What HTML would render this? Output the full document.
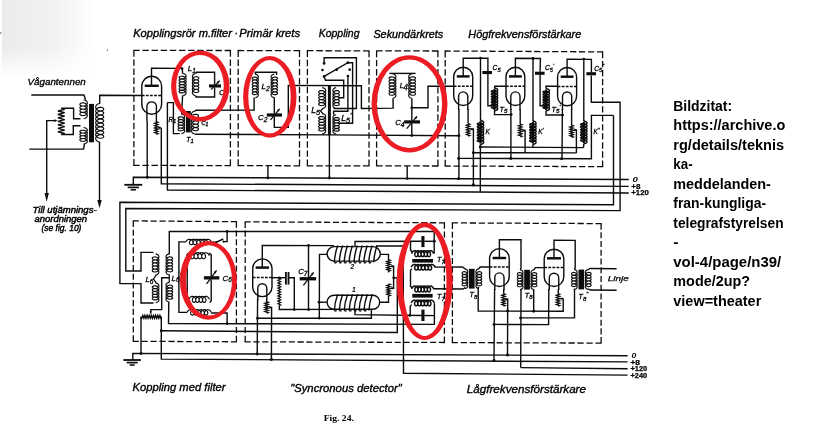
<!DOCTYPE html>
<html lang="sv">
<head>
<meta charset="utf-8">
<title>Fig. 24</title>
<style>
html,body{margin:0;padding:0;background:#fff;}
body{width:835px;height:434px;overflow:hidden;position:relative;font-family:"Liberation Sans",sans-serif;}
svg{position:absolute;left:0;top:0;display:block;}
svg text{stroke:none;fill:#000;}
.h{font-family:"Liberation Sans",sans-serif;font-style:italic;stroke:#000;stroke-width:0.34px;}
.l{font-family:"Liberation Sans",sans-serif;font-style:italic;stroke:#000;stroke-width:0.3px;}
.nb{font-family:"Liberation Sans",sans-serif;font-weight:bold;stroke:#000;stroke-width:0.25px;}
.li{font-family:"Liberation Sans",sans-serif;font-style:italic;stroke:#000;stroke-width:0.25px;}
.n{font-family:"Liberation Sans",sans-serif;font-style:italic;font-weight:bold;}
.n3{font-family:"Liberation Sans",sans-serif;font-style:italic;stroke:#000;stroke-width:0.3px;}
.n2{font-family:"Liberation Sans",sans-serif;font-style:italic;stroke:#000;stroke-width:0.45px;}
.f{font-family:"Liberation Serif",serif;font-weight:bold;}
.b{font-family:"Liberation Sans",sans-serif;font-weight:bold;fill:#000;}
</style>
</head>
<body>
<svg width="835" height="434" viewBox="0 0 835 434">
<defs>
<linearGradient id="sm" x1="0" y1="0" x2="1" y2="0"><stop offset="0" stop-color="#ebebeb"/><stop offset="0.55" stop-color="#f1f1f1"/><stop offset="1" stop-color="#ffffff"/></linearGradient>
<linearGradient id="sf" x1="0" y1="0" x2="0" y2="1"><stop offset="0" stop-color="#fff" stop-opacity="0"/><stop offset="0.6" stop-color="#fff" stop-opacity="0"/><stop offset="1" stop-color="#fff" stop-opacity="1"/></linearGradient>
<filter id="gs" x="0" y="0" width="835" height="434" filterUnits="userSpaceOnUse" color-interpolation-filters="sRGB"><feColorMatrix type="saturate" values="0"/></filter>
</defs>
<rect x="0" y="0" width="835" height="434" fill="#ffffff"/>
<rect x="2" y="0" width="92" height="76" fill="url(#sm)"/>
<rect x="0" y="0" width="96" height="77" fill="url(#sf)"/>
<circle cx="107.4" cy="50.1" r="0.7" fill="#333"/><circle cx="0.8" cy="33" r="0.7" fill="#444"/>
<g class="ink" filter="url(#gs)" stroke="#0c0c0c" fill="none" stroke-linejoin="miter">
<polyline points="133.3,50.4 231.0,50.5" stroke-width="1.29" stroke-dasharray="6.43 2.7"/>
<polyline points="230.4,50.5 230.4,165.6" stroke-width="1.29" stroke-dasharray="6.36 2.7"/>
<polyline points="231.0,165.6 133.3,165.4" stroke-width="1.29" stroke-dasharray="6.43 2.7"/>
<polyline points="133.9,165.4 133.9,50.4" stroke-width="1.29" stroke-dasharray="6.35 2.7"/>
<polyline points="237.6,50.5 300.1,50.7" stroke-width="1.29" stroke-dasharray="6.61 2.7"/>
<polyline points="299.5,50.7 299.5,165.8" stroke-width="1.29" stroke-dasharray="6.36 2.7"/>
<polyline points="300.1,165.8 237.6,165.6" stroke-width="1.29" stroke-dasharray="6.61 2.7"/>
<polyline points="238.2,165.6 238.2,50.5" stroke-width="1.29" stroke-dasharray="6.36 2.7"/>
<polyline points="306.8,50.7 369.6,50.9" stroke-width="1.29" stroke-dasharray="6.66 2.7"/>
<polyline points="369.0,50.9 369.0,165.9" stroke-width="1.29" stroke-dasharray="6.35 2.7"/>
<polyline points="369.6,165.9 306.8,165.8" stroke-width="1.29" stroke-dasharray="6.66 2.7"/>
<polyline points="307.4,165.8 307.4,50.7" stroke-width="1.29" stroke-dasharray="6.36 2.7"/>
<polyline points="376.0,50.9 438.5,51.0" stroke-width="1.29" stroke-dasharray="6.61 2.7"/>
<polyline points="437.9,51.0 437.9,166.0" stroke-width="1.29" stroke-dasharray="6.35 2.7"/>
<polyline points="438.5,166.0 376.0,165.9" stroke-width="1.29" stroke-dasharray="6.61 2.7"/>
<polyline points="376.6,165.9 376.6,50.9" stroke-width="1.29" stroke-dasharray="6.35 2.7"/>
<polyline points="444.6,51.0 603.2,51.9" stroke-width="1.29" stroke-dasharray="6.26 2.7"/>
<polyline points="602.6,51.9 602.6,166.7" stroke-width="1.29" stroke-dasharray="6.34 2.7"/>
<polyline points="603.2,166.7 444.6,166.0" stroke-width="1.29" stroke-dasharray="6.26 2.7"/>
<polyline points="445.2,166.0 445.2,51.0" stroke-width="1.29" stroke-dasharray="6.35 2.7"/>
<polyline points="132.7,220.9 237.0,221.7" stroke-width="1.29" stroke-dasharray="6.22 2.7"/>
<polyline points="236.4,221.7 236.4,341.8" stroke-width="1.29" stroke-dasharray="6.07 2.7"/>
<polyline points="237.0,341.8 132.7,341.3" stroke-width="1.29" stroke-dasharray="6.22 2.7"/>
<polyline points="133.3,341.3 133.3,220.9" stroke-width="1.29" stroke-dasharray="6.09 2.7"/>
<polyline points="244.6,221.9 445.0,222.8" stroke-width="1.29" stroke-dasharray="6.13 2.7"/>
<polyline points="444.4,222.8 444.4,342.5" stroke-width="1.29" stroke-dasharray="6.04 2.7"/>
<polyline points="445.0,342.5 244.6,341.8" stroke-width="1.29" stroke-dasharray="6.13 2.7"/>
<polyline points="245.2,341.8 245.2,221.9" stroke-width="1.29" stroke-dasharray="6.06 2.7"/>
<polyline points="451.8,222.9 601.7,223.6" stroke-width="1.29" stroke-dasharray="6.28 2.7"/>
<polyline points="601.1,223.6 601.1,343.1" stroke-width="1.29" stroke-dasharray="6.03 2.7"/>
<polyline points="601.7,343.1 451.8,342.6" stroke-width="1.29" stroke-dasharray="6.28 2.7"/>
<polyline points="452.4,342.6 452.4,222.9" stroke-width="1.29" stroke-dasharray="6.04 2.7"/>
<polyline points="133.3,184.6 133.3,177.2 628.8,179.5" stroke-width="1.40"/>
<polyline points="161.3,128.0 161.3,183.8 628.8,186.4" stroke-width="1.40"/>
<polyline points="167.4,102.6 167.4,190.0 628.8,193.0" stroke-width="1.40"/>
<polyline points="124.3,184.8 142.3,184.8" stroke-width="1.82"/>
<polyline points="127.7,187.4 138.9,187.4" stroke-width="1.68"/>
<polyline points="130.7,189.8 135.9,189.8" stroke-width="1.54"/>
<polyline points="267.9,165.6 267.9,177.9" stroke-width="1.40"/>
<circle cx="267.9" cy="177.9" r="1.35" fill="#0c0c0c" stroke="none"/>
<polyline points="407.2,165.9 407.2,178.5" stroke-width="1.40"/>
<circle cx="407.2" cy="178.5" r="1.35" fill="#0c0c0c" stroke="none"/>
<polyline points="613.5,115.4 613.5,204.7 119.9,202.3 119.9,283.6 141.0,283.6 141.0,303.0 153.5,303.0" stroke-width="1.40"/>
<polyline points="591.3,75.4 591.3,102.2 620.1,102.2 620.1,210.6 125.8,208.5 125.8,271.0 141.0,271.0 141.0,252.4 153.5,252.4" stroke-width="1.40"/>
<polyline points="132.8,360.0 132.8,353.4 627.6,355.7" stroke-width="1.40"/>
<polyline points="161.3,330.8 161.3,359.1 627.6,361.9" stroke-width="1.40"/>
<polyline points="520.7,367.6 627.6,368.7" stroke-width="1.40"/>
<polyline points="376.0,246.0 403.2,245.9 403.5,373.3 627.6,375.1" stroke-width="1.40"/>
<polyline points="123.4,360.0 140.9,360.0" stroke-width="1.82"/>
<polyline points="126.7,362.6 137.7,362.6" stroke-width="1.68"/>
<polyline points="129.7,365.0 134.7,365.0" stroke-width="1.54"/>
<text x="632.6" y="181.9" font-size="7.4" class="n" textLength="5.4" lengthAdjust="spacingAndGlyphs" >0</text>
<text x="631.3" y="188.7" font-size="7.4" class="nb" textLength="9.2" lengthAdjust="spacingAndGlyphs" >+8</text>
<text x="631.3" y="195.3" font-size="7.2" class="nb" textLength="17.6" lengthAdjust="spacingAndGlyphs" >+120</text>
<text x="631.4" y="357.7" font-size="6.4" class="n" textLength="4.8" lengthAdjust="spacingAndGlyphs" >0</text>
<text x="630.4" y="364.7" font-size="7.2" class="nb" textLength="9.6" lengthAdjust="spacingAndGlyphs" >+8</text>
<text x="630.4" y="371.3" font-size="7.2" class="nb" textLength="16.8" lengthAdjust="spacingAndGlyphs" >+120</text>
<text x="630.4" y="377.9" font-size="7.2" class="nb" textLength="16.8" lengthAdjust="spacingAndGlyphs" >+240</text>
<text x="133.2" y="37.3" font-size="10.2" class="h" textLength="98.8" lengthAdjust="spacingAndGlyphs" >Kopplingsrör m.filter</text>
<text x="234.4" y="37.3" font-size="10.2" class="h" >·</text>
<text x="239.3" y="37.3" font-size="10.2" class="h" textLength="60.8" lengthAdjust="spacingAndGlyphs" >Primär krets</text>
<text x="318.7" y="37.4" font-size="10.2" class="h" textLength="40.8" lengthAdjust="spacingAndGlyphs" >Koppling</text>
<text x="373.4" y="37.5" font-size="10.2" class="h" textLength="69.8" lengthAdjust="spacingAndGlyphs" >Sekundärkrets</text>
<text x="468.3" y="38.0" font-size="10.2" class="h" textLength="113.0" lengthAdjust="spacingAndGlyphs" >Högfrekvensförstärkare</text>
<text x="132.6" y="391.3" font-size="10.2" class="h" textLength="92.9" lengthAdjust="spacingAndGlyphs" >Koppling med filter</text>
<text x="290.2" y="391.8" font-size="10.2" class="h" textLength="111.6" lengthAdjust="spacingAndGlyphs" >"Syncronous detector"</text>
<text x="466.8" y="393.0" font-size="10.2" class="h" textLength="119.2" lengthAdjust="spacingAndGlyphs" >Lågfrekvensförstärkare</text>
<text x="323.7" y="421.2" font-size="8.6" class="f" textLength="30.2" lengthAdjust="spacingAndGlyphs" >Fig. 24.</text>
<text x="27.5" y="85.1" font-size="8.2" class="n3" textLength="58.3" lengthAdjust="spacingAndGlyphs" >Vågantennen</text>
<text x="32.6" y="212.7" font-size="8.8" class="n2" textLength="64.0" lengthAdjust="spacingAndGlyphs" >Till utjämnings-</text>
<text x="34.5" y="222.4" font-size="8.8" class="n2" textLength="52.5" lengthAdjust="spacingAndGlyphs" >anordningen</text>
<text x="41.5" y="231.3" font-size="8.8" class="n2" textLength="39.9" lengthAdjust="spacingAndGlyphs" >(se fig. 10)</text>
<text x="607.8" y="281.0" font-size="7.8" class="li" textLength="21.0" lengthAdjust="spacingAndGlyphs" >Linje</text>
<polyline points="31.3,95.0 83.9,95.0 85.6,99.6" stroke-width="1.40"/>
<path d="M83.60,99.70 L84.64,99.94 L85.60,100.35 L86.39,100.93 L86.97,101.62 L87.28,102.40 L87.30,103.21 L87.02,103.99 L86.47,104.70 L85.69,105.29 L84.75,105.73 L83.72,105.98 L82.67,106.05 L81.70,105.94 L80.88,105.67 L80.28,105.27 L79.94,104.78 L79.89,104.26 L80.14,103.76 L80.66,103.33 L81.41,103.01 L82.34,102.84 L83.37,102.85 L84.41,103.04 L85.39,103.42 L86.23,103.96 L86.86,104.64 L87.24,105.40 L87.32,106.20 L87.10,107.00 L86.61,107.73 L85.88,108.35 L84.97,108.82 L83.95,109.12 L82.90,109.23 L81.91,109.16 L81.05,108.92 L80.39,108.54 L79.99,108.07 L79.88,107.55 L80.06,107.04 L80.52,106.59 L81.23,106.24 L82.12,106.04 L83.13,106.01 L84.18,106.16 L85.19,106.50 L86.06,107.00 L86.75,107.65 L87.18,108.40 L87.32,109.20 L87.18,110.00 L86.75,110.75 L86.06,111.40 L85.19,111.90 L84.18,112.24 L83.13,112.39 L82.12,112.36 L81.23,112.16 L80.52,111.81 L80.06,111.36 L79.88,110.85 L79.99,110.33 L80.39,109.86 L81.05,109.48 L81.91,109.24 L82.90,109.17 L83.95,109.28 L84.97,109.58 L85.88,110.05 L86.61,110.67 L87.10,111.40 L87.32,112.20 L87.24,113.00 L86.86,113.76 L86.23,114.44 L85.39,114.98 L84.41,115.36 L83.37,115.55 L82.34,115.56 L81.41,115.39 L80.66,115.07 L80.14,114.64 L79.89,114.14 L79.94,113.62 L80.28,113.13 L80.88,112.73 L81.70,112.46 L82.67,112.35 L83.72,112.42 L84.75,112.67 L85.69,113.11 L86.47,113.70 L87.02,114.41 L87.30,115.19 L87.28,116.00 L86.97,116.78 L86.39,117.47 L85.60,118.05 L84.64,118.46 L83.60,118.70" stroke-width="1.15" stroke-linejoin="round"/>
<path d="M83.60,127.50 L84.64,127.71 L85.60,128.07 L86.39,128.57 L86.97,129.17 L87.28,129.85 L87.30,130.55 L87.02,131.23 L86.47,131.84 L85.69,132.35 L84.75,132.73 L83.72,132.96 L82.67,133.02 L81.70,132.92 L80.88,132.68 L80.28,132.34 L79.94,131.91 L79.89,131.46 L80.14,131.03 L80.66,130.65 L81.41,130.37 L82.34,130.23 L83.37,130.23 L84.41,130.40 L85.39,130.73 L86.23,131.20 L86.86,131.79 L87.24,132.45 L87.32,133.15 L87.10,133.84 L86.61,134.47 L85.88,135.01 L84.97,135.42 L83.95,135.68 L82.90,135.77 L81.91,135.71 L81.05,135.50 L80.39,135.18 L79.99,134.77 L79.88,134.32 L80.06,133.88 L80.52,133.48 L81.23,133.18 L82.12,133.00 L83.13,132.98 L84.18,133.11 L85.19,133.40 L86.06,133.84 L86.75,134.41 L87.18,135.06 L87.32,135.75 L87.18,136.44 L86.75,137.09 L86.06,137.66 L85.19,138.10 L84.18,138.39 L83.13,138.52 L82.12,138.50 L81.23,138.32 L80.52,138.02 L80.06,137.62 L79.88,137.18 L79.99,136.73 L80.39,136.32 L81.05,136.00 L81.91,135.79 L82.90,135.73 L83.95,135.82 L84.97,136.08 L85.88,136.49 L86.61,137.03 L87.10,137.66 L87.32,138.35 L87.24,139.05 L86.86,139.71 L86.23,140.30 L85.39,140.77 L84.41,141.10 L83.37,141.27 L82.34,141.27 L81.41,141.13 L80.66,140.85 L80.14,140.47 L79.89,140.04 L79.94,139.59 L80.28,139.16 L80.88,138.82 L81.70,138.58 L82.67,138.48 L83.72,138.54 L84.75,138.77 L85.69,139.15 L86.47,139.66 L87.02,140.27 L87.30,140.95 L87.28,141.65 L86.97,142.33 L86.39,142.93 L85.60,143.43 L84.64,143.79 L83.60,144.00" stroke-width="1.15" stroke-linejoin="round"/>
<polyline points="29.4,149.1 83.5,149.1 84.5,144.0" stroke-width="1.40"/>
<rect x="89.0" y="103.9" width="5.0" height="38.4" fill="#0c0c0c" stroke="none"/>
<path d="M99.70,103.50 L98.52,103.80 L97.45,104.32 L96.57,105.04 L95.97,105.90 L95.69,106.85 L95.76,107.82 L96.18,108.74 L96.90,109.55 L97.87,110.19 L99.00,110.63 L100.19,110.83 L101.34,110.81 L102.34,110.57 L103.11,110.16 L103.59,109.62 L103.72,109.02 L103.51,108.44 L102.96,107.92 L102.12,107.55 L101.08,107.36 L99.91,107.39 L98.73,107.65 L97.63,108.13 L96.71,108.82 L96.05,109.66 L95.71,110.60 L95.72,111.57 L96.08,112.50 L96.76,113.33 L97.69,114.01 L98.79,114.48 L99.98,114.73 L101.14,114.74 L102.18,114.54 L103.00,114.16 L103.53,113.64 L103.72,113.05 L103.57,112.45 L103.08,111.92 L102.29,111.52 L101.27,111.29 L100.12,111.28 L98.93,111.50 L97.81,111.95 L96.85,112.60 L96.15,113.42 L95.75,114.34 L95.70,115.31 L95.99,116.26 L96.62,117.11 L97.51,117.82 L98.59,118.33 L99.77,118.62 L100.94,118.67 L102.01,118.51 L102.87,118.15 L103.46,117.65 L103.72,117.07 L103.62,116.47 L103.19,115.92 L102.45,115.49 L101.46,115.23 L100.33,115.18 L99.14,115.36 L98.00,115.77 L97.01,116.39 L96.25,117.18 L95.79,118.09 L95.68,119.06 L95.92,120.01 L96.49,120.89 L97.33,121.62 L98.39,122.17 L99.56,122.50 L100.74,122.60 L101.83,122.47 L102.74,122.14 L103.38,121.66 L103.69,121.09 L103.66,120.49 L103.29,119.93 L102.60,119.47 L101.65,119.18 L100.54,119.09 L99.35,119.23 L98.19,119.59 L97.17,120.18 L96.36,120.94 L95.85,121.84 L95.67,122.80 L95.85,123.76 L96.36,124.66 L97.17,125.42 L98.19,126.01 L99.35,126.37 L100.54,126.51 L101.65,126.42 L102.60,126.13 L103.29,125.67 L103.66,125.11 L103.69,124.51 L103.38,123.94 L102.74,123.46 L101.83,123.13 L100.74,123.00 L99.56,123.10 L98.39,123.43 L97.33,123.98 L96.49,124.71 L95.92,125.59 L95.68,126.54 L95.79,127.51 L96.25,128.42 L97.01,129.21 L98.00,129.83 L99.14,130.24 L100.33,130.42 L101.46,130.37 L102.45,130.11 L103.19,129.68 L103.62,129.13 L103.72,128.53 L103.46,127.95 L102.87,127.45 L102.01,127.09 L100.94,126.93 L99.77,126.98 L98.59,127.27 L97.51,127.78 L96.62,128.49 L95.99,129.34 L95.70,130.29 L95.75,131.26 L96.15,132.18 L96.85,133.00 L97.81,133.65 L98.93,134.10 L100.12,134.32 L101.27,134.31 L102.29,134.08 L103.08,133.68 L103.57,133.15 L103.72,132.55 L103.53,131.96 L103.00,131.44 L102.18,131.06 L101.14,130.86 L99.98,130.87 L98.79,131.12 L97.69,131.59 L96.76,132.27 L96.08,133.10 L95.72,134.03 L95.71,135.00 L96.05,135.94 L96.71,136.78 L97.63,137.47 L98.73,137.95 L99.91,138.21 L101.08,138.24 L102.12,138.05 L102.96,137.68 L103.51,137.16 L103.72,136.58 L103.59,135.98 L103.11,135.44 L102.34,135.03 L101.34,134.79 L100.19,134.77 L99.00,134.97 L97.87,135.41 L96.90,136.05 L96.18,136.86 L95.76,137.78 L95.69,138.75 L95.97,139.70 L96.57,140.56 L97.45,141.28 L98.52,141.80 L99.70,142.10" stroke-width="1.15" stroke-linejoin="round"/>
<polyline points="99.7,104.0 99.7,95.3 142.2,95.5" stroke-width="1.40"/>
<polyline points="99.5,141.8 99.5,201.5" stroke-width="1.40"/>
<polygon points="99.5,208.3 97.3,200.0 101.7,200.0" fill="#0c0c0c" stroke="none"/>
<polyline points="56.0,120.6 46.7,120.6 46.7,194.5" stroke-width="1.40"/>
<polygon points="46.7,201.7 44.5,193.0 48.9,193.0" fill="#0c0c0c" stroke="none"/>
<polygon points="57.6,120.6 54.2,119.2 54.2,122.0" fill="#0c0c0c" stroke="none"/>
<polyline points="61.3,108.4 64.7,109.3 57.9,111.0 64.7,112.7 57.9,114.5 64.7,116.2 57.9,117.9 64.7,119.7 57.9,121.4 64.7,123.1 57.9,124.9 64.7,126.6 57.9,128.3 64.7,130.1 57.9,131.8 64.7,133.5 61.3,134.4" stroke-width="1.33"/>
<polyline points="61.3,108.2 73.6,108.2 73.6,118.7 80.5,118.7" stroke-width="1.40"/>
<polyline points="61.3,134.5 73.3,134.5 73.3,125.7 80.5,125.7" stroke-width="1.40"/>
<rect x="141.8" y="76.3" width="19.8" height="37.9" rx="9.9" ry="9.9" stroke-width="1.40"/>
<polyline points="144.7,85.8 158.7,85.8" stroke-width="2.45"/>
<polyline points="141.8,95.5 161.6,95.5" stroke-width="1.54" stroke-dasharray="2.8 1.3"/>
<path d="M146.9,121.0 L146.9,106.0 A4.8,4.8 0 0 1 156.4,106.0 L156.4,121.0" stroke-width="1.40" fill="none" />
<polyline points="151.5,85.8 151.5,68.1 182.3,68.4 182.6,73.6" stroke-width="1.40"/>
<circle cx="182.0" cy="68.5" r="1.35" fill="#0c0c0c" stroke="none"/>
<path d="M182.60,73.50 L183.61,73.71 L184.54,74.09 L185.31,74.60 L185.84,75.22 L186.10,75.90 L186.07,76.60 L185.74,77.27 L185.15,77.87 L184.34,78.35 L183.38,78.69 L182.36,78.86 L181.36,78.87 L180.46,78.73 L179.75,78.45 L179.27,78.07 L179.08,77.64 L179.18,77.20 L179.57,76.81 L180.22,76.49 L181.07,76.30 L182.05,76.26 L183.07,76.39 L184.06,76.68 L184.92,77.12 L185.58,77.68 L186.00,78.34 L186.12,79.03 L185.95,79.73 L185.50,80.37 L184.80,80.92 L183.91,81.34 L182.92,81.60 L181.89,81.70 L180.93,81.63 L180.11,81.42 L179.50,81.10 L179.15,80.69 L179.09,80.25 L179.33,79.82 L179.84,79.46 L180.59,79.20 L181.51,79.08 L182.52,79.11 L183.54,79.31 L184.48,79.67 L185.25,80.17 L185.81,80.79 L186.09,81.47 L186.08,82.17 L185.78,82.84 L185.20,83.45 L184.41,83.94 L183.46,84.29 L182.44,84.48 L181.44,84.50 L180.53,84.36 L179.80,84.09 L179.30,83.73 L179.08,83.30 L179.16,82.86 L179.53,82.46 L180.16,82.13 L181.00,81.93 L181.97,81.88 L182.99,81.99 L183.99,82.27 L184.86,82.70 L185.54,83.26 L185.98,83.90 L186.12,84.60 L185.98,85.30 L185.54,85.94 L184.86,86.50 L183.99,86.93 L182.99,87.21 L181.97,87.32 L181.00,87.27 L180.16,87.07 L179.53,86.74 L179.16,86.34 L179.08,85.90 L179.30,85.47 L179.80,85.11 L180.53,84.84 L181.44,84.70 L182.44,84.72 L183.46,84.91 L184.41,85.26 L185.20,85.75 L185.78,86.36 L186.08,87.03 L186.09,87.73 L185.81,88.41 L185.25,89.03 L184.48,89.53 L183.54,89.89 L182.52,90.09 L181.51,90.12 L180.59,90.00 L179.84,89.74 L179.33,89.38 L179.09,88.95 L179.15,88.51 L179.50,88.10 L180.11,87.78 L180.93,87.57 L181.89,87.50 L182.92,87.60 L183.91,87.86 L184.80,88.28 L185.50,88.83 L185.95,89.47 L186.12,90.17 L186.00,90.86 L185.58,91.52 L184.92,92.08 L184.06,92.52 L183.07,92.81 L182.05,92.94 L181.07,92.90 L180.22,92.71 L179.57,92.39 L179.18,92.00 L179.08,91.56 L179.27,91.13 L179.75,90.75 L180.46,90.47 L181.36,90.33 L182.36,90.34 L183.38,90.51 L184.34,90.85 L185.15,91.33 L185.74,91.93 L186.07,92.60 L186.10,93.30 L185.84,93.98 L185.31,94.60 L184.54,95.11 L183.61,95.49 L182.60,95.70" stroke-width="1.15" stroke-linejoin="round"/>
<polyline points="182.6,95.5 181.6,114.2" stroke-width="1.40"/>
<path d="M195.60,73.50 L194.68,73.74 L193.84,74.16 L193.15,74.74 L192.65,75.45 L192.40,76.23 L192.41,77.03 L192.69,77.81 L193.20,78.50 L193.91,79.07 L194.77,79.48 L195.68,79.70 L196.60,79.74 L197.43,79.59 L198.11,79.29 L198.58,78.87 L198.81,78.38 L198.77,77.87 L198.47,77.39 L197.94,77.00 L197.21,76.74 L196.35,76.65 L195.43,76.73 L194.52,77.01 L193.70,77.46 L193.04,78.07 L192.59,78.79 L192.38,79.58 L192.45,80.38 L192.77,81.14 L193.32,81.82 L194.06,82.36 L194.93,82.73 L195.85,82.92 L196.76,82.93 L197.56,82.75 L198.21,82.43 L198.64,81.99 L198.82,81.49 L198.74,80.98 L198.39,80.52 L197.82,80.15 L197.06,79.91 L196.19,79.85 L195.26,79.97 L194.37,80.28 L193.57,80.76 L192.94,81.39 L192.53,82.13 L192.38,82.93 L192.48,83.73 L192.85,84.48 L193.44,85.13 L194.21,85.64 L195.10,85.99 L196.02,86.14 L196.91,86.11 L197.69,85.90 L198.30,85.56 L198.69,85.10 L198.82,84.60 L198.69,84.10 L198.30,83.64 L197.69,83.30 L196.91,83.09 L196.02,83.06 L195.10,83.21 L194.21,83.56 L193.44,84.07 L192.85,84.72 L192.48,85.47 L192.38,86.27 L192.53,87.07 L192.94,87.81 L193.57,88.44 L194.37,88.92 L195.26,89.23 L196.19,89.35 L197.06,89.29 L197.82,89.05 L198.39,88.68 L198.74,88.22 L198.82,87.71 L198.64,87.21 L198.21,86.77 L197.56,86.45 L196.76,86.27 L195.85,86.28 L194.93,86.47 L194.06,86.84 L193.32,87.38 L192.77,88.06 L192.45,88.82 L192.38,89.62 L192.59,90.41 L193.04,91.13 L193.70,91.74 L194.52,92.19 L195.43,92.47 L196.35,92.55 L197.21,92.46 L197.94,92.20 L198.47,91.81 L198.77,91.33 L198.81,90.82 L198.58,90.33 L198.11,89.91 L197.43,89.61 L196.60,89.46 L195.68,89.50 L194.77,89.72 L193.91,90.13 L193.20,90.70 L192.69,91.39 L192.41,92.17 L192.40,92.97 L192.65,93.75 L193.15,94.46 L193.84,95.04 L194.68,95.46 L195.60,95.70" stroke-width="1.15" stroke-linejoin="round"/>
<polyline points="195.8,73.6 196.4,72.2 214.6,72.2 214.6,84.4" stroke-width="1.40"/>
<rect x="209.0" y="84.4" width="12.0" height="3.1" fill="#0c0c0c" stroke="none"/>
<polyline points="214.6,87.4 214.6,97.0 196.0,97.0 195.6,95.6" stroke-width="1.40"/>
<polyline points="211.0,89.6 219.6,80.8" stroke-width="1.26"/>
<polygon points="219.6,80.8 218.6,83.5 216.9,81.8" fill="#0c0c0c" stroke="none"/>
<polyline points="167.4,102.6 173.4,102.6 173.4,133.6 179.8,133.6" stroke-width="1.40"/>
<path d="M181.40,114.00 L182.34,114.21 L183.21,114.59 L183.93,115.10 L184.44,115.72 L184.70,116.41 L184.68,117.12 L184.40,117.80 L183.87,118.42 L183.14,118.92 L182.26,119.28 L181.31,119.48 L180.37,119.51 L179.52,119.38 L178.82,119.11 L178.33,118.74 L178.09,118.31 L178.13,117.86 L178.44,117.44 L178.99,117.09 L179.74,116.86 L180.62,116.78 L181.57,116.85 L182.51,117.10 L183.35,117.50 L184.04,118.03 L184.50,118.67 L184.71,119.37 L184.65,120.07 L184.32,120.75 L183.75,121.34 L182.99,121.82 L182.09,122.15 L181.14,122.32 L180.21,122.32 L179.38,122.17 L178.71,121.88 L178.27,121.50 L178.08,121.06 L178.17,120.61 L178.52,120.20 L179.11,119.87 L179.89,119.66 L180.79,119.61 L181.75,119.71 L182.67,119.99 L183.49,120.41 L184.14,120.97 L184.56,121.62 L184.72,122.32 L184.61,123.03 L184.24,123.69 L183.62,124.27 L182.83,124.72 L181.92,125.02 L180.97,125.16 L180.05,125.13 L179.24,124.95 L178.61,124.64 L178.21,124.25 L178.08,123.80 L178.21,123.35 L178.61,122.96 L179.24,122.65 L180.05,122.47 L180.97,122.44 L181.92,122.58 L182.83,122.88 L183.62,123.33 L184.24,123.91 L184.61,124.57 L184.72,125.28 L184.56,125.98 L184.14,126.63 L183.49,127.19 L182.67,127.61 L181.75,127.89 L180.79,127.99 L179.89,127.94 L179.11,127.73 L178.52,127.40 L178.17,126.99 L178.08,126.54 L178.27,126.10 L178.71,125.72 L179.38,125.43 L180.21,125.28 L181.14,125.28 L182.09,125.45 L182.99,125.78 L183.75,126.26 L184.32,126.85 L184.65,127.53 L184.71,128.23 L184.50,128.93 L184.04,129.57 L183.35,130.10 L182.51,130.50 L181.57,130.75 L180.62,130.82 L179.74,130.74 L178.99,130.51 L178.44,130.16 L178.13,129.74 L178.09,129.29 L178.33,128.86 L178.82,128.49 L179.52,128.22 L180.37,128.09 L181.31,128.12 L182.26,128.32 L183.14,128.68 L183.87,129.18 L184.40,129.80 L184.68,130.48 L184.70,131.19 L184.44,131.88 L183.93,132.50 L183.21,133.01 L182.34,133.39 L181.40,133.60" stroke-width="1.15" stroke-linejoin="round"/>
<rect x="186.0" y="111.0" width="4.7" height="21.4" fill="#0c0c0c" stroke="none"/>
<path d="M195.00,111.00 L194.00,111.25 L193.08,111.69 L192.32,112.29 L191.78,113.02 L191.51,113.83 L191.52,114.66 L191.82,115.46 L192.38,116.18 L193.16,116.77 L194.09,117.19 L195.09,117.43 L196.09,117.46 L197.00,117.31 L197.74,117.00 L198.26,116.57 L198.51,116.06 L198.47,115.53 L198.14,115.03 L197.56,114.63 L196.76,114.36 L195.82,114.26 L194.82,114.35 L193.82,114.63 L192.93,115.10 L192.20,115.73 L191.71,116.48 L191.49,117.30 L191.55,118.13 L191.90,118.92 L192.51,119.62 L193.32,120.18 L194.27,120.57 L195.28,120.76 L196.26,120.77 L197.15,120.58 L197.85,120.25 L198.32,119.80 L198.52,119.28 L198.43,118.75 L198.05,118.27 L197.43,117.89 L196.60,117.65 L195.64,117.58 L194.63,117.70 L193.65,118.02 L192.78,118.52 L192.09,119.18 L191.65,119.94 L191.48,120.77 L191.60,121.59 L191.99,122.37 L192.64,123.05 L193.48,123.58 L194.45,123.94 L195.46,124.10 L196.43,124.06 L197.29,123.85 L197.96,123.49 L198.38,123.02 L198.53,122.50 L198.38,121.98 L197.96,121.51 L197.29,121.15 L196.43,120.94 L195.46,120.90 L194.45,121.06 L193.48,121.42 L192.64,121.95 L191.99,122.63 L191.60,123.41 L191.48,124.23 L191.65,125.06 L192.09,125.82 L192.78,126.48 L193.65,126.98 L194.63,127.30 L195.64,127.42 L196.60,127.35 L197.43,127.11 L198.05,126.73 L198.43,126.25 L198.52,125.72 L198.32,125.20 L197.85,124.75 L197.15,124.42 L196.26,124.23 L195.28,124.24 L194.27,124.43 L193.32,124.82 L192.51,125.38 L191.90,126.08 L191.55,126.87 L191.49,127.70 L191.71,128.52 L192.20,129.27 L192.93,129.90 L193.82,130.37 L194.82,130.65 L195.82,130.74 L196.76,130.64 L197.56,130.37 L198.14,129.97 L198.47,129.47 L198.51,128.94 L198.26,128.43 L197.74,128.00 L197.00,127.69 L196.09,127.54 L195.09,127.57 L194.09,127.81 L193.16,128.23 L192.38,128.82 L191.82,129.54 L191.52,130.34 L191.51,131.17 L191.78,131.98 L192.32,132.71 L193.08,133.31 L194.00,133.75 L195.00,134.00" stroke-width="1.15" stroke-linejoin="round"/>
<polyline points="195.0,111.2 196.0,110.3 254.1,110.0 254.1,97.4" stroke-width="1.40"/>
<polyline points="195.0,133.8 196.0,134.3 329.4,134.9 458.9,135.8" stroke-width="1.40"/>
<polyline points="147.2,121.0 147.2,177.3" stroke-width="1.40"/>
<circle cx="147.2" cy="177.3" r="1.4850000000000003" fill="#0c0c0c" stroke="none"/>
<polyline points="156.3,120.8 156.3,122.0" stroke-width="1.40"/>
<polyline points="156.3,121.5 158.0,122.1 154.6,123.2 158.0,124.4 154.6,125.6 158.0,126.7 154.6,127.9 158.0,129.1 154.6,130.2 158.0,131.4 154.6,132.6 158.0,133.7 156.3,134.3" stroke-width="1.26"/>
<polyline points="158.3,127.8 161.3,127.8" stroke-width="1.40"/>
<polygon points="157.8,127.8 160.2,126.6 160.2,129.0" fill="#0c0c0c" stroke="none"/>
<text x="187.8" y="71.4" font-size="7.840000000000001" class="l" >L<tspan font-size="6.6" dy="1.7">1</tspan></text>
<text x="218.9" y="94.6" font-size="7.840000000000001" class="l" >C<tspan font-size="6.6" dy="1.7">1</tspan></text>
<text x="168.6" y="121.6" font-size="6.272" class="l" >R<tspan font-size="5.3" dy="1.7">1</tspan></text>
<text x="186.2" y="141.6" font-size="6.944000000000001" class="l" >T<tspan font-size="5.8" dy="1.7">1</tspan></text>
<text x="201.2" y="124.6" font-size="6.048000000000001" class="l" >C<tspan font-size="5.1" dy="1.7">1</tspan></text>
<path d="M255.30,74.10 L256.17,74.33 L256.97,74.72 L257.62,75.26 L258.08,75.92 L258.31,76.64 L258.28,77.38 L258.00,78.09 L257.49,78.72 L256.79,79.23 L255.97,79.59 L255.10,79.78 L254.24,79.79 L253.47,79.63 L252.85,79.34 L252.44,78.94 L252.28,78.48 L252.37,78.02 L252.70,77.60 L253.26,77.27 L253.99,77.07 L254.83,77.03 L255.71,77.16 L256.55,77.46 L257.29,77.93 L257.86,78.53 L258.22,79.22 L258.32,79.96 L258.18,80.69 L257.79,81.37 L257.19,81.95 L256.43,82.40 L255.57,82.67 L254.69,82.78 L253.87,82.71 L253.16,82.49 L252.64,82.14 L252.34,81.71 L252.29,81.24 L252.49,80.79 L252.93,80.41 L253.58,80.13 L254.37,80.00 L255.23,80.04 L256.10,80.25 L256.91,80.63 L257.58,81.17 L258.05,81.81 L258.30,82.53 L258.29,83.28 L258.03,83.99 L257.53,84.63 L256.85,85.15 L256.04,85.52 L255.16,85.72 L254.30,85.74 L253.52,85.60 L252.89,85.32 L252.47,84.92 L252.28,84.47 L252.35,84.01 L252.67,83.58 L253.21,83.24 L253.93,83.03 L254.76,82.97 L255.64,83.09 L256.49,83.38 L257.24,83.84 L257.82,84.43 L258.20,85.11 L258.32,85.85 L258.20,86.59 L257.82,87.27 L257.24,87.86 L256.49,88.32 L255.64,88.61 L254.76,88.73 L253.93,88.67 L253.21,88.46 L252.67,88.12 L252.35,87.69 L252.28,87.23 L252.47,86.78 L252.89,86.38 L253.52,86.10 L254.30,85.96 L255.16,85.98 L256.04,86.18 L256.85,86.55 L257.53,87.07 L258.03,87.71 L258.29,88.42 L258.30,89.17 L258.05,89.89 L257.58,90.53 L256.91,91.07 L256.10,91.45 L255.23,91.66 L254.37,91.70 L253.58,91.57 L252.93,91.29 L252.49,90.91 L252.29,90.46 L252.34,89.99 L252.64,89.56 L253.16,89.21 L253.87,88.99 L254.69,88.92 L255.57,89.03 L256.43,89.30 L257.19,89.75 L257.79,90.33 L258.18,91.01 L258.32,91.74 L258.22,92.48 L257.86,93.17 L257.29,93.77 L256.55,94.24 L255.71,94.54 L254.83,94.67 L253.99,94.63 L253.26,94.43 L252.70,94.10 L252.37,93.68 L252.28,93.22 L252.44,92.76 L252.85,92.36 L253.47,92.07 L254.24,91.91 L255.10,91.92 L255.97,92.11 L256.79,92.47 L257.49,92.98 L258.00,93.61 L258.28,94.32 L258.31,95.06 L258.08,95.78 L257.62,96.44 L256.97,96.98 L256.17,97.37 L255.30,97.60" stroke-width="1.15" stroke-linejoin="round"/>
<path d="M274.30,74.10 L273.37,74.33 L272.52,74.72 L271.82,75.26 L271.33,75.92 L271.10,76.64 L271.13,77.38 L271.43,78.09 L271.97,78.72 L272.71,79.23 L273.58,79.59 L274.52,79.78 L275.43,79.79 L276.25,79.63 L276.91,79.34 L277.34,78.94 L277.52,78.48 L277.43,78.02 L277.07,77.60 L276.48,77.27 L275.70,77.07 L274.80,77.03 L273.87,77.16 L272.97,77.46 L272.18,77.93 L271.57,78.53 L271.19,79.22 L271.08,79.96 L271.23,80.69 L271.65,81.37 L272.29,81.95 L273.10,82.40 L274.01,82.67 L274.95,82.78 L275.83,82.71 L276.58,82.49 L277.14,82.14 L277.46,81.71 L277.51,81.24 L277.29,80.79 L276.82,80.41 L276.14,80.13 L275.30,80.00 L274.37,80.04 L273.44,80.25 L272.58,80.63 L271.87,81.17 L271.36,81.81 L271.10,82.53 L271.11,83.28 L271.39,83.99 L271.92,84.63 L272.65,85.15 L273.51,85.52 L274.44,85.72 L275.37,85.74 L276.20,85.60 L276.87,85.32 L277.32,84.92 L277.52,84.47 L277.44,84.01 L277.10,83.58 L276.53,83.24 L275.76,83.03 L274.88,82.97 L273.94,83.09 L273.03,83.38 L272.23,83.84 L271.61,84.43 L271.21,85.11 L271.07,85.85 L271.21,86.59 L271.61,87.27 L272.23,87.86 L273.03,88.32 L273.94,88.61 L274.88,88.73 L275.76,88.67 L276.53,88.46 L277.10,88.12 L277.44,87.69 L277.52,87.23 L277.32,86.78 L276.87,86.38 L276.20,86.10 L275.37,85.96 L274.44,85.98 L273.51,86.18 L272.65,86.55 L271.92,87.07 L271.39,87.71 L271.11,88.42 L271.10,89.17 L271.36,89.89 L271.87,90.53 L272.58,91.07 L273.44,91.45 L274.37,91.66 L275.30,91.70 L276.14,91.57 L276.82,91.29 L277.29,90.91 L277.51,90.46 L277.46,89.99 L277.14,89.56 L276.58,89.21 L275.83,88.99 L274.95,88.92 L274.01,89.03 L273.10,89.30 L272.29,89.75 L271.65,90.33 L271.23,91.01 L271.08,91.74 L271.19,92.48 L271.57,93.17 L272.18,93.77 L272.97,94.24 L273.87,94.54 L274.80,94.67 L275.70,94.63 L276.48,94.43 L277.07,94.10 L277.43,93.68 L277.52,93.22 L277.34,92.76 L276.91,92.36 L276.25,92.07 L275.43,91.91 L274.52,91.92 L273.58,92.11 L272.71,92.47 L271.97,92.98 L271.43,93.61 L271.13,94.32 L271.10,95.06 L271.33,95.78 L271.82,96.44 L272.52,96.98 L273.37,97.37 L274.30,97.60" stroke-width="1.15" stroke-linejoin="round"/>
<polyline points="255.3,74.3 255.3,72.3 276.6,72.3 276.6,75.0" stroke-width="1.40"/>
<polyline points="274.3,97.4 274.3,113.6" stroke-width="1.40"/>
<rect x="266.8" y="113.4" width="15.2" height="3.2" fill="#0c0c0c" stroke="none"/>
<polyline points="274.3,116.4 274.3,127.4 288.3,127.4 288.3,85.4 361.4,85.7 361.4,108.5 393.2,108.1 393.0,98.6" stroke-width="1.40"/>
<polyline points="270.5,119.9 279.6,108.8" stroke-width="1.26"/>
<polygon points="279.6,108.8 278.9,111.6 277.0,110.0" fill="#0c0c0c" stroke="none"/>
<text x="261.6" y="89.0" font-size="7.840000000000001" class="l" >L<tspan font-size="6.6" dy="1.7">2</tspan></text>
<text x="258.0" y="120.4" font-size="7.840000000000001" class="l" >C<tspan font-size="6.6" dy="1.7">2</tspan></text>
<path d="M322.20,87.60 L323.20,87.83 L324.12,88.22 L324.88,88.77 L325.42,89.43 L325.69,90.17 L325.68,90.93 L325.38,91.66 L324.82,92.31 L324.04,92.84 L323.11,93.23 L322.11,93.44 L321.11,93.47 L320.20,93.34 L319.46,93.05 L318.94,92.66 L318.69,92.20 L318.73,91.72 L319.06,91.27 L319.64,90.90 L320.44,90.65 L321.38,90.56 L322.38,90.64 L323.38,90.90 L324.27,91.33 L325.00,91.90 L325.49,92.58 L325.71,93.32 L325.65,94.08 L325.30,94.80 L324.69,95.43 L323.88,95.94 L322.93,96.29 L321.92,96.47 L320.94,96.47 L320.05,96.31 L319.35,96.00 L318.88,95.59 L318.68,95.12 L318.77,94.64 L319.15,94.21 L319.77,93.86 L320.60,93.64 L321.56,93.58 L322.57,93.69 L323.55,93.98 L324.42,94.44 L325.11,95.03 L325.55,95.72 L325.72,96.47 L325.60,97.23 L325.21,97.93 L324.56,98.55 L323.72,99.03 L322.75,99.35 L321.74,99.50 L320.77,99.47 L319.91,99.28 L319.24,98.95 L318.82,98.53 L318.68,98.05 L318.82,97.57 L319.24,97.15 L319.91,96.82 L320.77,96.63 L321.74,96.60 L322.75,96.75 L323.72,97.07 L324.56,97.55 L325.21,98.17 L325.60,98.87 L325.72,99.63 L325.55,100.38 L325.11,101.07 L324.42,101.66 L323.55,102.12 L322.57,102.41 L321.56,102.52 L320.60,102.46 L319.77,102.24 L319.15,101.89 L318.77,101.46 L318.68,100.98 L318.88,100.51 L319.35,100.10 L320.05,99.79 L320.94,99.63 L321.92,99.63 L322.93,99.81 L323.88,100.16 L324.69,100.67 L325.30,101.30 L325.65,102.02 L325.71,102.78 L325.49,103.52 L325.00,104.20 L324.27,104.77 L323.38,105.20 L322.38,105.46 L321.38,105.54 L320.44,105.45 L319.64,105.20 L319.06,104.83 L318.73,104.38 L318.69,103.90 L318.94,103.44 L319.46,103.05 L320.20,102.76 L321.11,102.63 L322.11,102.66 L323.11,102.87 L324.04,103.26 L324.82,103.79 L325.38,104.44 L325.68,105.17 L325.69,105.93 L325.42,106.67 L324.88,107.33 L324.12,107.88 L323.20,108.27 L322.20,108.50" stroke-width="1.15" stroke-linejoin="round"/>
<path d="M322.20,113.60 L323.20,113.82 L324.12,114.21 L324.88,114.74 L325.42,115.38 L325.69,116.09 L325.68,116.83 L325.38,117.54 L324.82,118.17 L324.04,118.69 L323.11,119.07 L322.11,119.27 L321.11,119.30 L320.20,119.17 L319.46,118.90 L318.94,118.51 L318.69,118.06 L318.73,117.60 L319.06,117.16 L319.64,116.80 L320.44,116.57 L321.38,116.48 L322.38,116.56 L323.38,116.81 L324.27,117.22 L325.00,117.78 L325.49,118.44 L325.71,119.16 L325.65,119.89 L325.30,120.59 L324.69,121.21 L323.88,121.70 L322.93,122.04 L321.92,122.22 L320.94,122.22 L320.05,122.06 L319.35,121.76 L318.88,121.36 L318.68,120.91 L318.77,120.44 L319.15,120.02 L319.77,119.68 L320.60,119.47 L321.56,119.41 L322.57,119.52 L323.55,119.80 L324.42,120.24 L325.11,120.82 L325.55,121.49 L325.72,122.22 L325.60,122.95 L325.21,123.64 L324.56,124.24 L323.72,124.70 L322.75,125.02 L321.74,125.16 L320.77,125.13 L319.91,124.94 L319.24,124.62 L318.82,124.21 L318.68,123.75 L318.82,123.29 L319.24,122.88 L319.91,122.56 L320.77,122.37 L321.74,122.34 L322.75,122.48 L323.72,122.80 L324.56,123.26 L325.21,123.86 L325.60,124.55 L325.72,125.28 L325.55,126.01 L325.11,126.68 L324.42,127.26 L323.55,127.70 L322.57,127.98 L321.56,128.09 L320.60,128.03 L319.77,127.82 L319.15,127.48 L318.77,127.06 L318.68,126.59 L318.88,126.14 L319.35,125.74 L320.05,125.44 L320.94,125.28 L321.92,125.28 L322.93,125.46 L323.88,125.80 L324.69,126.29 L325.30,126.91 L325.65,127.61 L325.71,128.34 L325.49,129.06 L325.00,129.72 L324.27,130.28 L323.38,130.69 L322.38,130.94 L321.38,131.02 L320.44,130.93 L319.64,130.70 L319.06,130.34 L318.73,129.90 L318.69,129.44 L318.94,128.99 L319.46,128.60 L320.20,128.33 L321.11,128.20 L322.11,128.23 L323.11,128.43 L324.04,128.81 L324.82,129.33 L325.38,129.96 L325.68,130.67 L325.69,131.41 L325.42,132.12 L324.88,132.76 L324.12,133.29 L323.20,133.68 L322.20,133.90" stroke-width="1.15" stroke-linejoin="round"/>
<polyline points="323.0,108.3 320.5,111.0 323.0,113.8" stroke-width="1.26"/>
<polyline points="329.4,85.6 329.4,134.9" stroke-width="2.94"/>
<polyline points="329.4,134.0 329.4,178.1" stroke-width="1.40"/>
<circle cx="329.4" cy="178.1" r="1.4850000000000003" fill="#0c0c0c" stroke="none"/>
<path d="M336.10,87.60 L335.18,87.83 L334.34,88.22 L333.65,88.77 L333.15,89.43 L332.90,90.17 L332.91,90.93 L333.19,91.66 L333.70,92.31 L334.41,92.84 L335.27,93.23 L336.18,93.44 L337.10,93.47 L337.93,93.34 L338.61,93.05 L339.08,92.66 L339.31,92.20 L339.27,91.72 L338.97,91.27 L338.44,90.90 L337.71,90.65 L336.85,90.56 L335.93,90.64 L335.02,90.90 L334.20,91.33 L333.54,91.90 L333.09,92.58 L332.88,93.32 L332.95,94.08 L333.27,94.80 L333.82,95.43 L334.56,95.94 L335.43,96.29 L336.35,96.47 L337.26,96.47 L338.06,96.31 L338.71,96.00 L339.14,95.59 L339.32,95.12 L339.24,94.64 L338.89,94.21 L338.32,93.86 L337.56,93.64 L336.69,93.58 L335.76,93.69 L334.87,93.98 L334.07,94.44 L333.44,95.03 L333.03,95.72 L332.88,96.47 L332.98,97.23 L333.35,97.93 L333.94,98.55 L334.71,99.03 L335.60,99.35 L336.52,99.50 L337.41,99.47 L338.19,99.28 L338.80,98.95 L339.19,98.53 L339.33,98.05 L339.19,97.57 L338.80,97.15 L338.19,96.82 L337.41,96.63 L336.52,96.60 L335.60,96.75 L334.71,97.07 L333.94,97.55 L333.35,98.17 L332.98,98.87 L332.88,99.63 L333.03,100.38 L333.44,101.07 L334.07,101.66 L334.87,102.12 L335.76,102.41 L336.69,102.52 L337.56,102.46 L338.32,102.24 L338.89,101.89 L339.24,101.46 L339.32,100.98 L339.14,100.51 L338.71,100.10 L338.06,99.79 L337.26,99.63 L336.35,99.63 L335.43,99.81 L334.56,100.16 L333.82,100.67 L333.27,101.30 L332.95,102.02 L332.88,102.78 L333.09,103.52 L333.54,104.20 L334.20,104.77 L335.02,105.20 L335.93,105.46 L336.85,105.54 L337.71,105.45 L338.44,105.20 L338.97,104.83 L339.27,104.38 L339.31,103.90 L339.08,103.44 L338.61,103.05 L337.93,102.76 L337.10,102.63 L336.18,102.66 L335.27,102.87 L334.41,103.26 L333.70,103.79 L333.19,104.44 L332.91,105.17 L332.90,105.93 L333.15,106.67 L333.65,107.33 L334.34,107.88 L335.18,108.27 L336.10,108.50" stroke-width="1.15" stroke-linejoin="round"/>
<path d="M336.10,114.80 L335.18,115.01 L334.34,115.37 L333.65,115.87 L333.15,116.48 L332.90,117.15 L332.91,117.84 L333.19,118.51 L333.70,119.10 L334.41,119.59 L335.27,119.94 L336.18,120.14 L337.10,120.17 L337.93,120.04 L338.61,119.78 L339.08,119.42 L339.31,119.00 L339.27,118.56 L338.97,118.15 L338.44,117.81 L337.71,117.59 L336.85,117.51 L335.93,117.58 L335.02,117.82 L334.20,118.21 L333.54,118.73 L333.09,119.35 L332.88,120.03 L332.95,120.72 L333.27,121.38 L333.82,121.96 L334.56,122.42 L335.43,122.74 L336.35,122.91 L337.26,122.91 L338.06,122.76 L338.71,122.48 L339.14,122.10 L339.32,121.68 L339.24,121.24 L338.89,120.84 L338.32,120.52 L337.56,120.32 L336.69,120.26 L335.76,120.37 L334.87,120.63 L334.07,121.05 L333.44,121.59 L333.03,122.22 L332.88,122.91 L332.98,123.60 L333.35,124.24 L333.94,124.81 L334.71,125.25 L335.60,125.54 L336.52,125.68 L337.41,125.65 L338.19,125.47 L338.80,125.17 L339.19,124.78 L339.33,124.35 L339.19,123.92 L338.80,123.53 L338.19,123.23 L337.41,123.05 L336.52,123.02 L335.60,123.16 L334.71,123.45 L333.94,123.89 L333.35,124.46 L332.98,125.10 L332.88,125.79 L333.03,126.48 L333.44,127.11 L334.07,127.65 L334.87,128.07 L335.76,128.33 L336.69,128.44 L337.56,128.38 L338.32,128.18 L338.89,127.86 L339.24,127.46 L339.32,127.02 L339.14,126.60 L338.71,126.22 L338.06,125.94 L337.26,125.79 L336.35,125.79 L335.43,125.96 L334.56,126.28 L333.82,126.74 L333.27,127.32 L332.95,127.98 L332.88,128.67 L333.09,129.35 L333.54,129.97 L334.20,130.49 L335.02,130.88 L335.93,131.12 L336.85,131.19 L337.71,131.11 L338.44,130.89 L338.97,130.55 L339.27,130.14 L339.31,129.70 L339.08,129.28 L338.61,128.92 L337.93,128.66 L337.10,128.53 L336.18,128.56 L335.27,128.76 L334.41,129.11 L333.70,129.60 L333.19,130.19 L332.91,130.86 L332.90,131.55 L333.15,132.22 L333.65,132.83 L334.34,133.33 L335.18,133.69 L336.10,133.90" stroke-width="1.15" stroke-linejoin="round"/>
<circle cx="324.1" cy="63.4" r="1.35" fill="#0c0c0c" stroke="none"/>
<circle cx="322.5" cy="70.0" r="1.35" fill="#0c0c0c" stroke="none"/>
<circle cx="324.1" cy="76.4" r="1.35" fill="#0c0c0c" stroke="none"/>
<circle cx="347.9" cy="62.7" r="1.35" fill="#0c0c0c" stroke="none"/>
<circle cx="349.7" cy="69.7" r="1.35" fill="#0c0c0c" stroke="none"/>
<circle cx="347.9" cy="76.0" r="1.35" fill="#0c0c0c" stroke="none"/>
<circle cx="336.7" cy="69.7" r="1.35" fill="#0c0c0c" stroke="none"/>
<polyline points="324.1,63.4 324.1,57.7 356.4,57.7 356.4,108.5 333.6,108.5" stroke-width="1.40"/>
<polyline points="324.1,76.4 347.9,62.7 352.6,62.7 352.6,123.2 338.0,123.2" stroke-width="1.40"/>
<polyline points="324.1,76.4 325.5,80.2 343.7,80.2 343.7,97.7 338.0,97.7" stroke-width="1.40"/>
<polyline points="347.9,76.0 347.9,111.2 333.6,111.2 333.6,114.8" stroke-width="1.40"/>
<text x="311.2" y="113.4" font-size="8.736" class="l" >L<tspan font-size="7.3" dy="1.7">5</tspan></text>
<text x="341.2" y="120.8" font-size="8.736" class="l" >L<tspan font-size="7.3" dy="1.7">5</tspan><tspan font-size="7.0" dy="-4.2">'</tspan></text>
<path d="M392.50,73.80 L393.49,74.04 L394.39,74.45 L395.13,75.01 L395.65,75.69 L395.90,76.45 L395.87,77.22 L395.55,77.96 L394.98,78.62 L394.19,79.15 L393.26,79.53 L392.27,79.72 L391.30,79.73 L390.43,79.57 L389.73,79.26 L389.27,78.85 L389.08,78.37 L389.18,77.89 L389.56,77.45 L390.19,77.10 L391.01,76.89 L391.96,76.85 L392.96,76.99 L393.92,77.31 L394.75,77.79 L395.40,78.42 L395.80,79.14 L395.92,79.91 L395.76,80.67 L395.32,81.38 L394.64,81.99 L393.78,82.45 L392.81,82.74 L391.81,82.85 L390.88,82.78 L390.08,82.54 L389.48,82.18 L389.14,81.73 L389.09,81.25 L389.32,80.78 L389.82,80.38 L390.55,80.09 L391.44,79.95 L392.42,79.99 L393.41,80.21 L394.32,80.61 L395.08,81.17 L395.62,81.84 L395.89,82.59 L395.88,83.37 L395.59,84.11 L395.03,84.78 L394.26,85.32 L393.34,85.71 L392.35,85.91 L391.37,85.94 L390.49,85.79 L389.77,85.49 L389.29,85.08 L389.08,84.61 L389.16,84.13 L389.52,83.68 L390.13,83.33 L390.95,83.11 L391.89,83.05 L392.88,83.17 L393.85,83.48 L394.69,83.95 L395.36,84.57 L395.78,85.28 L395.93,86.05 L395.78,86.82 L395.36,87.53 L394.69,88.15 L393.85,88.62 L392.88,88.93 L391.89,89.05 L390.95,88.99 L390.13,88.77 L389.52,88.42 L389.16,87.97 L389.08,87.49 L389.29,87.02 L389.77,86.61 L390.49,86.31 L391.37,86.16 L392.35,86.19 L393.34,86.39 L394.26,86.78 L395.03,87.32 L395.59,87.99 L395.88,88.73 L395.89,89.51 L395.62,90.26 L395.08,90.93 L394.32,91.49 L393.41,91.89 L392.42,92.11 L391.44,92.15 L390.55,92.01 L389.82,91.72 L389.32,91.32 L389.09,90.85 L389.14,90.37 L389.48,89.92 L390.08,89.56 L390.88,89.32 L391.81,89.25 L392.81,89.36 L393.78,89.65 L394.64,90.11 L395.32,90.72 L395.76,91.43 L395.92,92.19 L395.80,92.96 L395.40,93.68 L394.75,94.31 L393.92,94.79 L392.96,95.11 L391.96,95.25 L391.01,95.21 L390.19,95.00 L389.56,94.65 L389.18,94.21 L389.08,93.73 L389.27,93.25 L389.73,92.84 L390.43,92.53 L391.30,92.37 L392.27,92.38 L393.26,92.57 L394.19,92.95 L394.98,93.48 L395.55,94.14 L395.87,94.88 L395.90,95.65 L395.65,96.41 L395.13,97.09 L394.39,97.65 L393.49,98.06 L392.50,98.30" stroke-width="1.15" stroke-linejoin="round"/>
<path d="M412.10,73.80 L411.11,74.04 L410.21,74.45 L409.47,75.01 L408.95,75.69 L408.70,76.45 L408.73,77.22 L409.05,77.96 L409.62,78.62 L410.41,79.15 L411.34,79.53 L412.33,79.72 L413.30,79.73 L414.17,79.57 L414.87,79.26 L415.33,78.85 L415.52,78.37 L415.42,77.89 L415.04,77.45 L414.41,77.10 L413.59,76.89 L412.64,76.85 L411.64,76.99 L410.68,77.31 L409.85,77.79 L409.20,78.42 L408.80,79.14 L408.68,79.91 L408.84,80.67 L409.28,81.38 L409.96,81.99 L410.82,82.45 L411.79,82.74 L412.79,82.85 L413.72,82.78 L414.52,82.54 L415.12,82.18 L415.46,81.73 L415.51,81.25 L415.28,80.78 L414.78,80.38 L414.05,80.09 L413.16,79.95 L412.18,79.99 L411.19,80.21 L410.28,80.61 L409.52,81.17 L408.98,81.84 L408.71,82.59 L408.72,83.37 L409.01,84.11 L409.57,84.78 L410.34,85.32 L411.26,85.71 L412.25,85.91 L413.23,85.94 L414.11,85.79 L414.83,85.49 L415.31,85.08 L415.52,84.61 L415.44,84.13 L415.08,83.68 L414.47,83.33 L413.65,83.11 L412.71,83.05 L411.72,83.17 L410.75,83.48 L409.91,83.95 L409.24,84.57 L408.82,85.28 L408.68,86.05 L408.82,86.82 L409.24,87.53 L409.91,88.15 L410.75,88.62 L411.72,88.93 L412.71,89.05 L413.65,88.99 L414.47,88.77 L415.08,88.42 L415.44,87.97 L415.52,87.49 L415.31,87.02 L414.83,86.61 L414.11,86.31 L413.23,86.16 L412.25,86.19 L411.26,86.39 L410.34,86.78 L409.57,87.32 L409.01,87.99 L408.72,88.73 L408.71,89.51 L408.98,90.26 L409.52,90.93 L410.28,91.49 L411.19,91.89 L412.18,92.11 L413.16,92.15 L414.05,92.01 L414.78,91.72 L415.28,91.32 L415.51,90.85 L415.46,90.37 L415.12,89.92 L414.52,89.56 L413.72,89.32 L412.79,89.25 L411.79,89.36 L410.82,89.65 L409.96,90.11 L409.28,90.72 L408.84,91.43 L408.68,92.19 L408.80,92.96 L409.20,93.68 L409.85,94.31 L410.68,94.79 L411.64,95.11 L412.64,95.25 L413.59,95.21 L414.41,95.00 L415.04,94.65 L415.42,94.21 L415.52,93.73 L415.33,93.25 L414.87,92.84 L414.17,92.53 L413.30,92.37 L412.33,92.38 L411.34,92.57 L410.41,92.95 L409.62,93.48 L409.05,94.14 L408.73,94.88 L408.70,95.65 L408.95,96.41 L409.47,97.09 L410.21,97.65 L411.11,98.06 L412.10,98.30" stroke-width="1.15" stroke-linejoin="round"/>
<polyline points="389.4,73.4 415.6,73.4" stroke-width="1.40"/>
<polyline points="411.9,98.6 411.8,120.4" stroke-width="1.40"/>
<circle cx="411.8" cy="107.7" r="1.35" fill="#0c0c0c" stroke="none"/>
<polyline points="411.8,107.7 428.0,107.7 428.0,86.2 453.7,86.2" stroke-width="1.40"/>
<rect x="404.2" y="120.3" width="15.8" height="3.2" fill="#0c0c0c" stroke="none"/>
<polyline points="411.8,123.4 411.8,135.6" stroke-width="1.40"/>
<circle cx="411.8" cy="135.6" r="1.35" fill="#0c0c0c" stroke="none"/>
<polyline points="406.7,128.7 417.0,116.3" stroke-width="1.26"/>
<polygon points="417.0,116.3 416.3,119.1 414.4,117.5" fill="#0c0c0c" stroke="none"/>
<text x="399.8" y="87.6" font-size="7.2" class="l" >L<tspan font-size="8.4" dy="2.6" dx="-0.6">4</tspan></text>
<text x="395.2" y="125.4" font-size="7.840000000000001" class="l" >C<tspan font-size="6.6" dy="1.7">4</tspan></text>
<rect x="453.7" y="67.2" width="19.0" height="38.3" rx="9.5" ry="9.5" stroke-width="1.40"/>
<polyline points="456.8,76.4 469.6,76.4" stroke-width="2.45"/>
<polyline points="453.7,86.2 472.7,86.2" stroke-width="1.54" stroke-dasharray="2.8 1.3"/>
<path d="M458.6,110.0 L458.6,96.5 A4.6,4.6 0 0 1 467.8,96.5 L467.8,110.0" stroke-width="1.40" fill="none" />
<polyline points="463.2,76.4 463.2,58.3 487.9,58.3 487.9,71.2" stroke-width="1.40"/>
<rect x="482.4" y="71.0" width="9.6" height="3.1" fill="#0c0c0c" stroke="none"/>
<polyline points="487.9,74.0 487.9,105.8 491.5,105.8" stroke-width="1.40"/>
<circle cx="480.5" cy="58.0" r="1.35" fill="#0c0c0c" stroke="none"/>
<polyline points="480.5,58.3 480.5,120.5" stroke-width="1.40"/>
<polyline points="480.5,121.1 480.5,143.6" stroke-width="2.10"/>
<path d="M480.50,120.30 L481.42,120.50 L482.26,120.82 L482.95,121.25 L483.43,121.76 L483.66,122.32 L483.61,122.89 L483.30,123.44 L482.75,123.93 L482.00,124.32 L481.12,124.60 L480.19,124.76 L479.28,124.78 L478.49,124.68 L477.86,124.49 L477.46,124.22 L477.32,123.91 L477.46,123.61 L477.86,123.34 L478.49,123.15 L479.28,123.05 L480.19,123.07 L481.12,123.23 L482.00,123.51 L482.75,123.90 L483.30,124.39 L483.61,124.94 L483.66,125.51 L483.43,126.07 L482.95,126.58 L482.26,127.01 L481.42,127.33 L480.50,127.53 L479.58,127.60 L478.74,127.54 L478.05,127.37 L477.57,127.13 L477.34,126.83 L477.39,126.52 L477.70,126.24 L478.25,126.01 L479.00,125.88 L479.88,125.86 L480.81,125.97 L481.72,126.21 L482.51,126.57 L483.14,127.03 L483.54,127.56 L483.68,128.13 L483.54,128.70 L483.14,129.23 L482.51,129.69 L481.72,130.05 L480.81,130.29 L479.88,130.40 L479.00,130.38 L478.25,130.25 L477.70,130.03 L477.39,129.74 L477.34,129.43 L477.57,129.14 L478.05,128.89 L478.74,128.73 L479.58,128.67 L480.50,128.74 L481.42,128.93 L482.26,129.25 L482.95,129.68 L483.43,130.19 L483.66,130.75 L483.61,131.33 L483.30,131.87 L482.75,132.36 L482.00,132.76 L481.12,133.04 L480.19,133.19 L479.28,133.21 L478.49,133.12 L477.86,132.92 L477.46,132.66 L477.32,132.35 L477.46,132.04 L477.86,131.78 L478.49,131.58 L479.28,131.49 L480.19,131.51 L481.12,131.66 L482.00,131.94 L482.75,132.34 L483.30,132.83 L483.61,133.37 L483.66,133.95 L483.43,134.51 L482.95,135.02 L482.26,135.45 L481.42,135.77 L480.50,135.97 L479.58,136.03 L478.74,135.97 L478.05,135.81 L477.57,135.56 L477.34,135.27 L477.39,134.96 L477.70,134.67 L478.25,134.45 L479.00,134.32 L479.88,134.30 L480.81,134.41 L481.72,134.65 L482.51,135.01 L483.14,135.47 L483.54,136.00 L483.68,136.57 L483.54,137.14 L483.14,137.67 L482.51,138.13 L481.72,138.49 L480.81,138.73 L479.88,138.84 L479.00,138.82 L478.25,138.69 L477.70,138.46 L477.39,138.18 L477.34,137.87 L477.57,137.57 L478.05,137.33 L478.74,137.16 L479.58,137.10 L480.50,137.17 L481.42,137.37 L482.26,137.69 L482.95,138.12 L483.43,138.63 L483.66,139.19 L483.61,139.76 L483.30,140.31 L482.75,140.80 L482.00,141.19 L481.12,141.47 L480.19,141.63 L479.28,141.65 L478.49,141.55 L477.86,141.36 L477.46,141.09 L477.32,140.78 L477.46,140.48 L477.86,140.21 L478.49,140.02 L479.28,139.92 L480.19,139.94 L481.12,140.10 L482.00,140.38 L482.75,140.77 L483.30,141.26 L483.61,141.81 L483.66,142.38 L483.43,142.94 L482.95,143.45 L482.26,143.88 L481.42,144.20 L480.50,144.40" stroke-width="1.45" stroke-linejoin="round"/>
<polyline points="480.4,144.2 480.3,191.7" stroke-width="1.40"/>
<circle cx="480.3" cy="147.0" r="1.4850000000000003" fill="#0c0c0c" stroke="none"/>
<polyline points="494.5,88.8 494.5,110.0" stroke-width="2.10"/>
<path d="M494.50,88.00 L495.42,88.19 L496.26,88.49 L496.95,88.90 L497.43,89.38 L497.66,89.91 L497.61,90.45 L497.30,90.97 L496.75,91.43 L496.00,91.80 L495.12,92.07 L494.19,92.21 L493.28,92.24 L492.49,92.15 L491.86,91.96 L491.46,91.71 L491.32,91.42 L491.46,91.13 L491.86,90.88 L492.49,90.69 L493.28,90.60 L494.19,90.63 L495.12,90.77 L496.00,91.04 L496.75,91.41 L497.30,91.87 L497.61,92.39 L497.66,92.93 L497.43,93.46 L496.95,93.94 L496.26,94.35 L495.42,94.65 L494.50,94.84 L493.58,94.90 L492.74,94.85 L492.05,94.69 L491.57,94.46 L491.34,94.18 L491.39,93.89 L491.70,93.62 L492.25,93.40 L493.00,93.28 L493.88,93.26 L494.81,93.37 L495.72,93.59 L496.51,93.93 L497.14,94.37 L497.54,94.87 L497.68,95.41 L497.54,95.95 L497.14,96.45 L496.51,96.89 L495.72,97.23 L494.81,97.45 L493.88,97.56 L493.00,97.54 L492.25,97.42 L491.70,97.20 L491.39,96.93 L491.34,96.64 L491.57,96.36 L492.05,96.13 L492.74,95.97 L493.58,95.92 L494.50,95.98 L495.42,96.17 L496.26,96.47 L496.95,96.88 L497.43,97.36 L497.66,97.89 L497.61,98.43 L497.30,98.95 L496.75,99.41 L496.00,99.78 L495.12,100.05 L494.19,100.19 L493.28,100.22 L492.49,100.13 L491.86,99.94 L491.46,99.69 L491.32,99.40 L491.46,99.11 L491.86,98.86 L492.49,98.67 L493.28,98.58 L494.19,98.61 L495.12,98.75 L496.00,99.02 L496.75,99.39 L497.30,99.85 L497.61,100.37 L497.66,100.91 L497.43,101.44 L496.95,101.92 L496.26,102.33 L495.42,102.63 L494.50,102.82 L493.58,102.88 L492.74,102.83 L492.05,102.67 L491.57,102.44 L491.34,102.16 L491.39,101.87 L491.70,101.60 L492.25,101.38 L493.00,101.26 L493.88,101.24 L494.81,101.35 L495.72,101.57 L496.51,101.91 L497.14,102.35 L497.54,102.85 L497.68,103.39 L497.54,103.93 L497.14,104.43 L496.51,104.87 L495.72,105.21 L494.81,105.43 L493.88,105.54 L493.00,105.52 L492.25,105.40 L491.70,105.18 L491.39,104.91 L491.34,104.62 L491.57,104.34 L492.05,104.11 L492.74,103.95 L493.58,103.90 L494.50,103.96 L495.42,104.15 L496.26,104.45 L496.95,104.86 L497.43,105.34 L497.66,105.87 L497.61,106.41 L497.30,106.93 L496.75,107.39 L496.00,107.76 L495.12,108.03 L494.19,108.17 L493.28,108.20 L492.49,108.11 L491.86,107.92 L491.46,107.67 L491.32,107.38 L491.46,107.09 L491.86,106.84 L492.49,106.65 L493.28,106.56 L494.19,106.59 L495.12,106.73 L496.00,107.00 L496.75,107.37 L497.30,107.83 L497.61,108.35 L497.66,108.89 L497.43,109.42 L496.95,109.90 L496.26,110.31 L495.42,110.61 L494.50,110.80" stroke-width="1.45" stroke-linejoin="round"/>
<polyline points="494.5,88.2 494.8,86.2 505.9,86.2" stroke-width="1.40"/>
<polyline points="494.5,110.6 494.5,114.6 511.2,114.6" stroke-width="1.40"/>
<circle cx="511.2" cy="114.6" r="1.35" fill="#0c0c0c" stroke="none"/>
<polyline points="458.9,109.0 458.9,178.7" stroke-width="1.40"/>
<circle cx="458.9" cy="135.8" r="1.4850000000000003" fill="#0c0c0c" stroke="none"/>
<circle cx="458.6" cy="158.4" r="1.4850000000000003" fill="#0c0c0c" stroke="none"/>
<circle cx="458.6" cy="178.7" r="1.4850000000000003" fill="#0c0c0c" stroke="none"/>
<polyline points="468.1,109.0 468.1,123.6" stroke-width="1.40"/>
<polyline points="468.1,123.5 469.8,124.1 466.4,125.2 469.8,126.4 466.4,127.5 469.8,128.7 466.4,129.8 469.8,131.0 466.4,132.2 469.8,133.3 466.4,134.5 469.8,135.6 468.1,136.2" stroke-width="1.26"/>
<polyline points="470.6,129.0 473.4,129.0 473.4,185.1" stroke-width="1.40"/>
<polygon points="470.0,129.0 472.4,127.8 472.4,130.2" fill="#0c0c0c" stroke="none"/>
<circle cx="473.3" cy="152.7" r="1.35" fill="#0c0c0c" stroke="none"/>
<circle cx="473.4" cy="185.1" r="1.4850000000000003" fill="#0c0c0c" stroke="none"/>
<rect x="506.0" y="67.2" width="18.8" height="38.3" rx="9.4" ry="9.4" stroke-width="1.40"/>
<polyline points="509.0,76.4 521.8,76.4" stroke-width="2.45"/>
<polyline points="506.0,86.2 524.8,86.2" stroke-width="1.54" stroke-dasharray="2.8 1.3"/>
<path d="M510.8,110.0 L510.8,96.5 A4.6,4.6 0 0 1 520.0,96.5 L520.0,110.0" stroke-width="1.40" fill="none" />
<polyline points="515.4,76.4 515.4,58.3 540.4,58.5 540.1,71.8" stroke-width="1.40"/>
<rect x="535.0" y="71.7" width="9.6" height="3.1" fill="#0c0c0c" stroke="none"/>
<polyline points="540.1,74.6 540.1,105.8 543.0,105.8" stroke-width="1.40"/>
<circle cx="533.0" cy="58.4" r="1.35" fill="#0c0c0c" stroke="none"/>
<polyline points="533.0,58.4 533.0,121.2" stroke-width="1.40"/>
<polyline points="532.9,121.8 532.9,143.6" stroke-width="2.10"/>
<path d="M532.90,121.00 L533.82,121.19 L534.66,121.50 L535.35,121.92 L535.83,122.41 L536.06,122.96 L536.01,123.52 L535.70,124.05 L535.15,124.52 L534.40,124.90 L533.52,125.18 L532.59,125.33 L531.68,125.35 L530.89,125.26 L530.26,125.07 L529.86,124.81 L529.73,124.51 L529.86,124.21 L530.26,123.95 L530.89,123.76 L531.68,123.67 L532.59,123.69 L533.52,123.84 L534.40,124.12 L535.15,124.50 L535.70,124.97 L536.01,125.50 L536.06,126.06 L535.83,126.61 L535.35,127.10 L534.66,127.52 L533.82,127.83 L532.90,128.02 L531.98,128.08 L531.14,128.03 L530.45,127.87 L529.97,127.63 L529.74,127.34 L529.79,127.04 L530.10,126.76 L530.65,126.55 L531.40,126.42 L532.28,126.40 L533.21,126.51 L534.12,126.74 L534.91,127.09 L535.54,127.54 L535.94,128.05 L536.07,128.60 L535.94,129.16 L535.54,129.67 L534.91,130.12 L534.12,130.47 L533.21,130.70 L532.28,130.81 L531.40,130.79 L530.65,130.66 L530.10,130.45 L529.79,130.17 L529.74,129.87 L529.97,129.58 L530.45,129.34 L531.14,129.18 L531.98,129.13 L532.90,129.19 L533.82,129.38 L534.66,129.69 L535.35,130.11 L535.83,130.60 L536.06,131.15 L536.01,131.71 L535.70,132.24 L535.15,132.71 L534.40,133.09 L533.52,133.37 L532.59,133.52 L531.68,133.54 L530.89,133.45 L530.26,133.26 L529.86,133.00 L529.73,132.70 L529.86,132.40 L530.26,132.14 L530.89,131.95 L531.68,131.86 L532.59,131.88 L533.52,132.03 L534.40,132.31 L535.15,132.69 L535.70,133.16 L536.01,133.69 L536.06,134.25 L535.83,134.80 L535.35,135.29 L534.66,135.71 L533.82,136.02 L532.90,136.21 L531.98,136.27 L531.14,136.22 L530.45,136.06 L529.97,135.82 L529.74,135.53 L529.79,135.23 L530.10,134.95 L530.65,134.74 L531.40,134.61 L532.28,134.59 L533.21,134.70 L534.12,134.93 L534.91,135.28 L535.54,135.73 L535.94,136.24 L536.07,136.79 L535.94,137.35 L535.54,137.86 L534.91,138.31 L534.12,138.66 L533.21,138.89 L532.28,139.00 L531.40,138.98 L530.65,138.85 L530.10,138.64 L529.79,138.36 L529.74,138.06 L529.97,137.77 L530.45,137.53 L531.14,137.37 L531.98,137.32 L532.90,137.38 L533.82,137.57 L534.66,137.88 L535.35,138.30 L535.83,138.79 L536.06,139.34 L536.01,139.90 L535.70,140.43 L535.15,140.90 L534.40,141.28 L533.52,141.56 L532.59,141.71 L531.68,141.73 L530.89,141.64 L530.26,141.45 L529.86,141.19 L529.73,140.89 L529.86,140.59 L530.26,140.33 L530.89,140.14 L531.68,140.05 L532.59,140.07 L533.52,140.22 L534.40,140.50 L535.15,140.88 L535.70,141.35 L536.01,141.88 L536.06,142.44 L535.83,142.99 L535.35,143.48 L534.66,143.90 L533.82,144.21 L532.90,144.40" stroke-width="1.45" stroke-linejoin="round"/>
<polyline points="532.9,144.2 532.9,147.3" stroke-width="1.40"/>
<polyline points="546.2,89.5 546.2,110.0" stroke-width="2.10"/>
<path d="M546.20,88.70 L547.12,88.88 L547.96,89.17 L548.65,89.57 L549.13,90.04 L549.36,90.55 L549.31,91.08 L549.00,91.58 L548.45,92.02 L547.70,92.39 L546.82,92.64 L545.89,92.79 L544.98,92.81 L544.19,92.72 L543.56,92.54 L543.16,92.30 L543.03,92.02 L543.16,91.73 L543.56,91.49 L544.19,91.31 L544.98,91.22 L545.89,91.24 L546.82,91.39 L547.70,91.64 L548.45,92.01 L549.00,92.45 L549.31,92.95 L549.36,93.48 L549.13,93.99 L548.65,94.46 L547.96,94.86 L547.12,95.15 L546.20,95.33 L545.28,95.39 L544.44,95.34 L543.75,95.19 L543.27,94.96 L543.04,94.69 L543.09,94.40 L543.40,94.14 L543.95,93.94 L544.70,93.82 L545.58,93.80 L546.51,93.90 L547.42,94.12 L548.21,94.45 L548.84,94.87 L549.24,95.36 L549.38,95.88 L549.24,96.40 L548.84,96.89 L548.21,97.31 L547.42,97.64 L546.51,97.86 L545.58,97.96 L544.70,97.95 L543.95,97.83 L543.40,97.62 L543.09,97.36 L543.04,97.08 L543.27,96.80 L543.75,96.58 L544.44,96.43 L545.28,96.37 L546.20,96.44 L547.12,96.62 L547.96,96.91 L548.65,97.30 L549.13,97.77 L549.36,98.29 L549.31,98.81 L549.00,99.31 L548.45,99.76 L547.70,100.12 L546.82,100.38 L545.89,100.52 L544.98,100.54 L544.19,100.46 L543.56,100.28 L543.16,100.03 L543.03,99.75 L543.16,99.47 L543.56,99.22 L544.19,99.04 L544.98,98.96 L545.89,98.98 L546.82,99.12 L547.70,99.38 L548.45,99.74 L549.00,100.19 L549.31,100.69 L549.36,101.21 L549.13,101.73 L548.65,102.20 L547.96,102.59 L547.12,102.88 L546.20,103.06 L545.28,103.13 L544.44,103.07 L543.75,102.92 L543.27,102.70 L543.04,102.42 L543.09,102.14 L543.40,101.88 L543.95,101.67 L544.70,101.55 L545.58,101.54 L546.51,101.64 L547.42,101.86 L548.21,102.19 L548.84,102.61 L549.24,103.10 L549.38,103.62 L549.24,104.14 L548.84,104.63 L548.21,105.05 L547.42,105.38 L546.51,105.60 L545.58,105.70 L544.70,105.68 L543.95,105.56 L543.40,105.36 L543.09,105.10 L543.04,104.81 L543.27,104.54 L543.75,104.31 L544.44,104.16 L545.28,104.11 L546.20,104.17 L547.12,104.35 L547.96,104.64 L548.65,105.04 L549.13,105.51 L549.36,106.02 L549.31,106.55 L549.00,107.05 L548.45,107.49 L547.70,107.86 L546.82,108.11 L545.89,108.26 L544.98,108.28 L544.19,108.19 L543.56,108.01 L543.16,107.77 L543.03,107.48 L543.16,107.20 L543.56,106.96 L544.19,106.78 L544.98,106.69 L545.89,106.71 L546.82,106.86 L547.70,107.11 L548.45,107.48 L549.00,107.92 L549.31,108.42 L549.36,108.95 L549.13,109.46 L548.65,109.93 L547.96,110.33 L547.12,110.62 L546.20,110.80" stroke-width="1.45" stroke-linejoin="round"/>
<polyline points="546.2,88.9 546.0,86.3 557.6,86.3" stroke-width="1.40"/>
<polyline points="546.0,110.6 546.0,115.0 562.7,115.0" stroke-width="1.40"/>
<circle cx="562.7" cy="115.0" r="1.35" fill="#0c0c0c" stroke="none"/>
<polyline points="510.9,109.0 510.9,158.6" stroke-width="1.40"/>
<circle cx="510.8" cy="158.6" r="1.4850000000000003" fill="#0c0c0c" stroke="none"/>
<polyline points="520.2,109.0 520.2,124.2" stroke-width="1.40"/>
<polyline points="520.2,124.1 521.9,124.7 518.5,125.8 521.9,127.0 518.5,128.1 521.9,129.3 518.5,130.4 521.9,131.6 518.5,132.8 521.9,133.9 518.5,135.1 521.9,136.2 520.2,136.8" stroke-width="1.26"/>
<polyline points="522.6,130.5 525.1,130.5 525.1,152.8" stroke-width="1.40"/>
<polygon points="522.0,130.5 524.4,129.3 524.4,131.7" fill="#0c0c0c" stroke="none"/>
<rect x="557.6" y="67.5" width="19.0" height="38.3" rx="9.5" ry="9.5" stroke-width="1.40"/>
<polyline points="560.7,76.7 573.5,76.7" stroke-width="2.45"/>
<polyline points="557.6,86.4 576.6,86.4" stroke-width="1.54" stroke-dasharray="2.8 1.3"/>
<path d="M562.5,110.0 L562.5,96.6 A4.6,4.6 0 0 1 571.7,96.6 L571.7,110.0" stroke-width="1.40" fill="none" />
<polyline points="567.1,76.7 567.1,59.2 591.4,59.4 591.4,72.4" stroke-width="1.40"/>
<rect x="586.4" y="72.2" width="9.6" height="3.1" fill="#0c0c0c" stroke="none"/>
<circle cx="583.8" cy="59.0" r="1.35" fill="#0c0c0c" stroke="none"/>
<polyline points="583.8,59.3 583.8,121.2" stroke-width="1.40"/>
<polyline points="583.8,121.8 583.8,143.0" stroke-width="2.10"/>
<path d="M583.80,121.00 L584.72,121.19 L585.56,121.49 L586.25,121.90 L586.73,122.38 L586.96,122.91 L586.91,123.45 L586.60,123.97 L586.05,124.43 L585.30,124.80 L584.42,125.07 L583.49,125.21 L582.58,125.24 L581.79,125.15 L581.16,124.96 L580.76,124.71 L580.62,124.42 L580.76,124.13 L581.16,123.88 L581.79,123.69 L582.58,123.60 L583.49,123.63 L584.42,123.77 L585.30,124.04 L586.05,124.41 L586.60,124.87 L586.91,125.39 L586.96,125.93 L586.73,126.46 L586.25,126.94 L585.56,127.35 L584.72,127.65 L583.80,127.84 L582.88,127.90 L582.04,127.85 L581.35,127.69 L580.87,127.46 L580.64,127.18 L580.69,126.89 L581.00,126.62 L581.55,126.40 L582.30,126.28 L583.18,126.26 L584.11,126.37 L585.02,126.59 L585.81,126.93 L586.44,127.37 L586.84,127.87 L586.97,128.41 L586.84,128.95 L586.44,129.45 L585.81,129.89 L585.02,130.23 L584.11,130.45 L583.18,130.56 L582.30,130.54 L581.55,130.42 L581.00,130.20 L580.69,129.93 L580.64,129.64 L580.87,129.36 L581.35,129.13 L582.04,128.97 L582.88,128.92 L583.80,128.98 L584.72,129.17 L585.56,129.47 L586.25,129.88 L586.73,130.36 L586.96,130.89 L586.91,131.43 L586.60,131.95 L586.05,132.41 L585.30,132.78 L584.42,133.05 L583.49,133.19 L582.58,133.22 L581.79,133.13 L581.16,132.94 L580.76,132.69 L580.62,132.40 L580.76,132.11 L581.16,131.86 L581.79,131.67 L582.58,131.58 L583.49,131.61 L584.42,131.75 L585.30,132.02 L586.05,132.39 L586.60,132.85 L586.91,133.37 L586.96,133.91 L586.73,134.44 L586.25,134.92 L585.56,135.33 L584.72,135.63 L583.80,135.82 L582.88,135.88 L582.04,135.83 L581.35,135.67 L580.87,135.44 L580.64,135.16 L580.69,134.87 L581.00,134.60 L581.55,134.38 L582.30,134.26 L583.18,134.24 L584.11,134.35 L585.02,134.57 L585.81,134.91 L586.44,135.35 L586.84,135.85 L586.97,136.39 L586.84,136.93 L586.44,137.43 L585.81,137.87 L585.02,138.21 L584.11,138.43 L583.18,138.54 L582.30,138.52 L581.55,138.40 L581.00,138.18 L580.69,137.91 L580.64,137.62 L580.87,137.34 L581.35,137.11 L582.04,136.95 L582.88,136.90 L583.80,136.96 L584.72,137.15 L585.56,137.45 L586.25,137.86 L586.73,138.34 L586.96,138.87 L586.91,139.41 L586.60,139.93 L586.05,140.39 L585.30,140.76 L584.42,141.03 L583.49,141.17 L582.58,141.20 L581.79,141.11 L581.16,140.92 L580.76,140.67 L580.62,140.38 L580.76,140.09 L581.16,139.84 L581.79,139.65 L582.58,139.56 L583.49,139.59 L584.42,139.73 L585.30,140.00 L586.05,140.37 L586.60,140.83 L586.91,141.35 L586.96,141.89 L586.73,142.42 L586.25,142.90 L585.56,143.31 L584.72,143.61 L583.80,143.80" stroke-width="1.45" stroke-linejoin="round"/>
<polyline points="583.8,143.6 583.5,147.6" stroke-width="1.40"/>
<polyline points="562.4,109.0 562.0,158.7" stroke-width="1.40"/>
<circle cx="561.6" cy="158.7" r="1.4850000000000003" fill="#0c0c0c" stroke="none"/>
<polyline points="571.6,109.0 571.6,125.6" stroke-width="1.40"/>
<polyline points="571.6,125.4 573.3,125.9 569.9,127.0 573.3,128.1 569.9,129.2 573.3,130.3 569.9,131.4 573.3,132.5 569.9,133.6 573.3,134.7 569.9,135.8 573.3,136.9 571.6,137.4" stroke-width="1.26"/>
<polyline points="574.0,130.0 576.4,130.0 576.4,152.9" stroke-width="1.40"/>
<polygon points="573.4,130.0 575.8,128.8 575.8,131.2" fill="#0c0c0c" stroke="none"/>
<polyline points="480.3,147.0 583.5,147.6" stroke-width="1.40"/>
<polyline points="473.4,152.7 576.4,152.9" stroke-width="1.40"/>
<polyline points="458.9,158.4 591.4,158.8 591.4,115.4 613.5,115.4" stroke-width="1.40"/>
<text x="492.6" y="70.0" font-size="6.720000000000001" class="l" >C<tspan font-size="5.6" dy="1.7">5</tspan></text>
<text x="545.0" y="70.4" font-size="6.720000000000001" class="l" >C<tspan font-size="5.6" dy="1.7">5</tspan><tspan font-size="5.4" dy="-4.2">'</tspan></text>
<text x="594.2" y="70.6" font-size="6.720000000000001" class="l" >C<tspan font-size="5.6" dy="1.7">5</tspan><tspan font-size="5.4" dy="-4.2">"</tspan></text>
<text x="499.4" y="111.6" font-size="7.392" class="l" >T<tspan font-size="6.2" dy="1.7">5</tspan></text>
<text x="551.4" y="111.6" font-size="7.392" class="l" >T<tspan font-size="6.2" dy="1.7">5</tspan><tspan font-size="5.9" dy="-4.2">'</tspan></text>
<text x="485.6" y="134.4" font-size="6.496" class="l" >K</text>
<text x="538.2" y="134.4" font-size="6.496" class="l" >K<tspan font-size="5.2" dy="-2.2">'</tspan></text>
<text x="593.4" y="134.4" font-size="6.496" class="l" >K<tspan font-size="5.2" dy="-2.2">"</tspan></text>
<path d="M155.60,253.90 L156.54,254.13 L157.41,254.53 L158.13,255.08 L158.64,255.75 L158.90,256.49 L158.88,257.26 L158.60,258.00 L158.07,258.66 L157.34,259.19 L156.46,259.58 L155.51,259.79 L154.57,259.83 L153.72,259.69 L153.02,259.41 L152.53,259.01 L152.29,258.54 L152.33,258.05 L152.64,257.60 L153.19,257.23 L153.94,256.98 L154.82,256.89 L155.77,256.97 L156.71,257.23 L157.55,257.66 L158.24,258.24 L158.70,258.93 L158.91,259.68 L158.85,260.44 L158.52,261.17 L157.95,261.81 L157.19,262.32 L156.29,262.68 L155.34,262.86 L154.41,262.86 L153.58,262.69 L152.91,262.38 L152.47,261.97 L152.28,261.50 L152.37,261.01 L152.72,260.57 L153.31,260.22 L154.09,260.00 L154.99,259.93 L155.95,260.05 L156.87,260.34 L157.69,260.80 L158.34,261.40 L158.76,262.10 L158.92,262.86 L158.81,263.62 L158.44,264.33 L157.82,264.95 L157.03,265.44 L156.12,265.77 L155.17,265.91 L154.25,265.88 L153.44,265.69 L152.81,265.36 L152.41,264.93 L152.28,264.45 L152.41,263.97 L152.81,263.54 L153.44,263.21 L154.25,263.02 L155.17,262.99 L156.12,263.13 L157.03,263.46 L157.82,263.95 L158.44,264.57 L158.81,265.28 L158.92,266.04 L158.76,266.80 L158.34,267.50 L157.69,268.10 L156.87,268.56 L155.95,268.85 L154.99,268.97 L154.09,268.90 L153.31,268.68 L152.72,268.33 L152.37,267.89 L152.28,267.40 L152.47,266.93 L152.91,266.52 L153.58,266.21 L154.41,266.04 L155.34,266.04 L156.29,266.22 L157.19,266.58 L157.95,267.09 L158.52,267.73 L158.85,268.46 L158.91,269.22 L158.70,269.97 L158.24,270.66 L157.55,271.24 L156.71,271.67 L155.77,271.93 L154.82,272.01 L153.94,271.92 L153.19,271.67 L152.64,271.30 L152.33,270.85 L152.29,270.36 L152.53,269.89 L153.02,269.49 L153.72,269.21 L154.57,269.07 L155.51,269.11 L156.46,269.32 L157.34,269.71 L158.07,270.24 L158.60,270.90 L158.88,271.64 L158.90,272.41 L158.64,273.15 L158.13,273.82 L157.41,274.37 L156.54,274.77 L155.60,275.00" stroke-width="1.15" stroke-linejoin="round"/>
<path d="M155.60,283.00 L156.54,283.21 L157.41,283.59 L158.13,284.10 L158.64,284.73 L158.90,285.42 L158.88,286.14 L158.60,286.82 L158.07,287.44 L157.34,287.94 L156.46,288.30 L155.51,288.50 L154.57,288.53 L153.72,288.41 L153.02,288.14 L152.53,287.77 L152.29,287.33 L152.33,286.88 L152.64,286.46 L153.19,286.11 L153.94,285.88 L154.82,285.79 L155.77,285.87 L156.71,286.11 L157.55,286.51 L158.24,287.05 L158.70,287.69 L158.91,288.39 L158.85,289.11 L158.52,289.78 L157.95,290.38 L157.19,290.86 L156.29,291.19 L155.34,291.36 L154.41,291.36 L153.58,291.21 L152.91,290.92 L152.47,290.53 L152.28,290.09 L152.37,289.64 L152.72,289.23 L153.31,288.90 L154.09,288.69 L154.99,288.63 L155.95,288.74 L156.87,289.02 L157.69,289.44 L158.34,290.00 L158.76,290.66 L158.92,291.36 L158.81,292.07 L158.44,292.74 L157.82,293.32 L157.03,293.78 L156.12,294.08 L155.17,294.22 L154.25,294.19 L153.44,294.01 L152.81,293.70 L152.41,293.30 L152.28,292.85 L152.41,292.40 L152.81,292.00 L153.44,291.69 L154.25,291.51 L155.17,291.48 L156.12,291.62 L157.03,291.92 L157.82,292.38 L158.44,292.96 L158.81,293.63 L158.92,294.34 L158.76,295.04 L158.34,295.70 L157.69,296.26 L156.87,296.68 L155.95,296.96 L154.99,297.07 L154.09,297.01 L153.31,296.80 L152.72,296.47 L152.37,296.06 L152.28,295.61 L152.47,295.17 L152.91,294.78 L153.58,294.49 L154.41,294.34 L155.34,294.34 L156.29,294.51 L157.19,294.84 L157.95,295.32 L158.52,295.92 L158.85,296.59 L158.91,297.31 L158.70,298.01 L158.24,298.65 L157.55,299.19 L156.71,299.59 L155.77,299.83 L154.82,299.91 L153.94,299.82 L153.19,299.59 L152.64,299.24 L152.33,298.82 L152.29,298.37 L152.53,297.93 L153.02,297.56 L153.72,297.29 L154.57,297.17 L155.51,297.20 L156.46,297.40 L157.34,297.76 L158.07,298.26 L158.60,298.88 L158.88,299.56 L158.90,300.28 L158.64,300.97 L158.13,301.60 L157.41,302.11 L156.54,302.49 L155.60,302.70" stroke-width="1.15" stroke-linejoin="round"/>
<polyline points="156.2,274.8 153.6,279.0 156.2,283.2" stroke-width="1.26"/>
<path d="M169.30,253.90 L168.36,254.13 L167.49,254.52 L166.77,255.07 L166.26,255.73 L166.00,256.47 L166.02,257.23 L166.30,257.96 L166.83,258.61 L167.56,259.14 L168.44,259.53 L169.39,259.74 L170.33,259.77 L171.18,259.64 L171.88,259.35 L172.37,258.96 L172.61,258.50 L172.57,258.02 L172.26,257.57 L171.71,257.20 L170.96,256.95 L170.08,256.86 L169.13,256.94 L168.19,257.20 L167.35,257.63 L166.66,258.20 L166.20,258.88 L165.99,259.62 L166.05,260.38 L166.38,261.10 L166.95,261.73 L167.71,262.24 L168.61,262.59 L169.56,262.77 L170.49,262.77 L171.32,262.61 L171.99,262.30 L172.43,261.89 L172.62,261.42 L172.53,260.94 L172.18,260.51 L171.59,260.16 L170.81,259.94 L169.91,259.88 L168.95,259.99 L168.03,260.28 L167.21,260.74 L166.56,261.33 L166.14,262.02 L165.98,262.77 L166.09,263.53 L166.46,264.23 L167.08,264.85 L167.87,265.33 L168.78,265.65 L169.73,265.80 L170.65,265.77 L171.46,265.58 L172.09,265.25 L172.49,264.83 L172.62,264.35 L172.49,263.87 L172.09,263.45 L171.46,263.12 L170.65,262.93 L169.73,262.90 L168.78,263.05 L167.87,263.37 L167.08,263.85 L166.46,264.47 L166.09,265.17 L165.98,265.93 L166.14,266.68 L166.56,267.37 L167.21,267.96 L168.03,268.42 L168.95,268.71 L169.91,268.82 L170.81,268.76 L171.59,268.54 L172.18,268.19 L172.53,267.76 L172.62,267.28 L172.43,266.81 L171.99,266.40 L171.32,266.09 L170.49,265.93 L169.56,265.93 L168.61,266.11 L167.71,266.46 L166.95,266.97 L166.38,267.60 L166.05,268.32 L165.99,269.08 L166.20,269.82 L166.66,270.50 L167.35,271.07 L168.19,271.50 L169.13,271.76 L170.08,271.84 L170.96,271.75 L171.71,271.50 L172.26,271.13 L172.57,270.68 L172.61,270.20 L172.37,269.74 L171.88,269.35 L171.18,269.06 L170.33,268.93 L169.39,268.96 L168.44,269.17 L167.56,269.56 L166.83,270.09 L166.30,270.74 L166.02,271.47 L166.00,272.23 L166.26,272.97 L166.77,273.63 L167.49,274.18 L168.36,274.57 L169.30,274.80" stroke-width="1.15" stroke-linejoin="round"/>
<path d="M169.30,282.40 L168.36,282.61 L167.49,282.99 L166.77,283.50 L166.26,284.12 L166.00,284.81 L166.02,285.52 L166.30,286.20 L166.83,286.82 L167.56,287.32 L168.44,287.68 L169.39,287.88 L170.33,287.91 L171.18,287.78 L171.88,287.51 L172.37,287.14 L172.61,286.71 L172.57,286.26 L172.26,285.84 L171.71,285.49 L170.96,285.26 L170.08,285.18 L169.13,285.25 L168.19,285.50 L167.35,285.90 L166.66,286.43 L166.20,287.07 L165.99,287.77 L166.05,288.47 L166.38,289.15 L166.95,289.74 L167.71,290.22 L168.61,290.55 L169.56,290.72 L170.49,290.72 L171.32,290.57 L171.99,290.28 L172.43,289.90 L172.62,289.46 L172.53,289.01 L172.18,288.60 L171.59,288.27 L170.81,288.06 L169.91,288.01 L168.95,288.11 L168.03,288.39 L167.21,288.81 L166.56,289.37 L166.14,290.02 L165.98,290.72 L166.09,291.43 L166.46,292.09 L167.08,292.67 L167.87,293.12 L168.78,293.42 L169.73,293.56 L170.65,293.53 L171.46,293.35 L172.09,293.04 L172.49,292.65 L172.62,292.20 L172.49,291.75 L172.09,291.36 L171.46,291.05 L170.65,290.87 L169.73,290.84 L168.78,290.98 L167.87,291.28 L167.08,291.73 L166.46,292.31 L166.09,292.97 L165.98,293.68 L166.14,294.38 L166.56,295.03 L167.21,295.59 L168.03,296.01 L168.95,296.29 L169.91,296.39 L170.81,296.34 L171.59,296.13 L172.18,295.80 L172.53,295.39 L172.62,294.94 L172.43,294.50 L171.99,294.12 L171.32,293.83 L170.49,293.68 L169.56,293.68 L168.61,293.85 L167.71,294.18 L166.95,294.66 L166.38,295.25 L166.05,295.93 L165.99,296.63 L166.20,297.33 L166.66,297.97 L167.35,298.50 L168.19,298.90 L169.13,299.15 L170.08,299.22 L170.96,299.14 L171.71,298.91 L172.26,298.56 L172.57,298.14 L172.61,297.69 L172.37,297.26 L171.88,296.89 L171.18,296.62 L170.33,296.49 L169.39,296.52 L168.44,296.72 L167.56,297.08 L166.83,297.58 L166.30,298.20 L166.02,298.88 L166.00,299.59 L166.26,300.28 L166.77,300.90 L167.49,301.41 L168.36,301.79 L169.30,302.00" stroke-width="1.15" stroke-linejoin="round"/>
<polyline points="169.3,274.6 169.3,282.6" stroke-width="1.26"/>
<polyline points="169.3,254.2 169.3,231.4 434.2,231.5 434.2,253.5" stroke-width="1.40"/>
<polyline points="169.3,277.7 161.7,277.7 161.7,309.6 150.8,309.6 150.8,312.0" stroke-width="1.40"/>
<polygon points="150.8,314.6 149.6,311.6 152.0,311.6" fill="#0c0c0c" stroke="none"/>
<polyline points="168.8,301.8 168.5,323.5 434.4,324.4 434.4,303.2" stroke-width="1.40"/>
<polyline points="141.2,316.9 141.7,318.3 142.8,315.4 143.9,318.3 144.9,315.4 146.0,318.3 147.1,315.4 148.1,318.3 149.2,315.4 150.3,318.3 151.3,315.4 152.4,318.3 153.5,315.4 154.6,318.3 155.6,315.4 156.7,318.3 157.8,315.4 158.8,318.3 159.9,315.4 161.0,318.3 161.5,316.9" stroke-width="1.40"/>
<polyline points="141.0,316.6 141.0,353.4" stroke-width="1.40"/>
<circle cx="141.0" cy="353.4" r="1.4850000000000003" fill="#0c0c0c" stroke="none"/>
<polyline points="161.3,316.6 161.3,331.0" stroke-width="1.40"/>
<circle cx="161.3" cy="330.8" r="1.4850000000000003" fill="#0c0c0c" stroke="none"/>
<polyline points="161.3,330.8 397.3,332.5 397.3,277.9 393.8,277.9" stroke-width="1.40"/>
<polyline points="185.9,241.9 178.9,241.9 178.9,312.4 187.2,312.4" stroke-width="1.40"/>
<path d="M185.90,242.00 L186.17,241.23 L186.66,240.52 L187.32,239.93 L188.12,239.51 L189.01,239.30 L189.93,239.31 L190.81,239.54 L191.60,239.97 L192.25,240.58 L192.71,241.29 L192.97,242.07 L193.01,242.84 L192.84,243.54 L192.50,244.12 L192.02,244.52 L191.46,244.71 L190.88,244.68 L190.34,244.43 L189.89,243.98 L189.60,243.36 L189.48,242.64 L189.58,241.86 L189.90,241.09 L190.41,240.40 L191.10,239.84 L191.93,239.46 L192.83,239.28 L193.74,239.33 L194.61,239.61 L195.38,240.07 L196.00,240.70 L196.42,241.43 L196.64,242.21 L196.64,242.98 L196.44,243.66 L196.07,244.20 L195.58,244.57 L195.01,244.72 L194.43,244.65 L193.90,244.36 L193.48,243.88 L193.21,243.24 L193.14,242.50 L193.27,241.72 L193.63,240.96 L194.18,240.29 L194.89,239.75 L195.73,239.41 L196.64,239.28 L197.55,239.37 L198.41,239.68 L199.15,240.18 L199.74,240.83 L200.13,241.57 L200.31,242.36 L200.27,243.11 L200.04,243.77 L199.64,244.29 L199.13,244.61 L198.55,244.72 L197.97,244.61 L197.46,244.29 L197.06,243.77 L196.83,243.11 L196.79,242.36 L196.97,241.57 L197.36,240.83 L197.95,240.18 L198.69,239.68 L199.55,239.37 L200.46,239.28 L201.37,239.41 L202.21,239.75 L202.92,240.29 L203.47,240.96 L203.83,241.72 L203.96,242.50 L203.89,243.24 L203.62,243.88 L203.20,244.36 L202.67,244.65 L202.09,244.72 L201.52,244.57 L201.03,244.20 L200.66,243.66 L200.46,242.98 L200.46,242.21 L200.68,241.43 L201.10,240.70 L201.72,240.07 L202.49,239.61 L203.36,239.33 L204.27,239.28 L205.17,239.46 L206.00,239.84 L206.69,240.40 L207.20,241.09 L207.52,241.86 L207.62,242.64 L207.50,243.36 L207.21,243.98 L206.76,244.43 L206.22,244.68 L205.64,244.71 L205.08,244.52 L204.60,244.12 L204.26,243.54 L204.09,242.84 L204.13,242.07 L204.39,241.29 L204.85,240.58 L205.50,239.97 L206.29,239.54 L207.17,239.31 L208.09,239.30 L208.98,239.51 L209.78,239.93 L210.44,240.52 L210.93,241.23 L211.20,242.00" stroke-width="1.15" stroke-linejoin="round"/>
<polyline points="211.0,242.2 216.3,242.2 223.3,239.0" stroke-width="1.40"/>
<polyline points="223.6,241.6 227.1,241.6 227.1,231.4" stroke-width="1.40"/>
<circle cx="227.1" cy="231.3" r="1.35" fill="#0c0c0c" stroke="none"/>
<circle cx="223.6" cy="241.6" r="1.08" fill="#0c0c0c" stroke="none"/>
<circle cx="216.3" cy="242.2" r="1.08" fill="#0c0c0c" stroke="none"/>
<path d="M187.20,312.40 L187.46,311.63 L187.92,310.92 L188.55,310.33 L189.31,309.91 L190.15,309.70 L191.02,309.71 L191.86,309.94 L192.61,310.37 L193.22,310.98 L193.66,311.69 L193.90,312.47 L193.94,313.24 L193.79,313.94 L193.46,314.52 L193.01,314.92 L192.48,315.11 L191.93,315.08 L191.41,314.83 L190.99,314.38 L190.71,313.76 L190.60,313.04 L190.69,312.26 L190.99,311.49 L191.48,310.80 L192.14,310.24 L192.92,309.86 L193.77,309.68 L194.64,309.73 L195.46,310.01 L196.19,310.47 L196.78,311.10 L197.18,311.83 L197.39,312.61 L197.39,313.38 L197.20,314.06 L196.85,314.60 L196.38,314.97 L195.84,315.12 L195.29,315.05 L194.79,314.76 L194.39,314.28 L194.13,313.64 L194.06,312.90 L194.19,312.12 L194.53,311.36 L195.05,310.69 L195.73,310.15 L196.53,309.81 L197.39,309.68 L198.26,309.77 L199.07,310.08 L199.77,310.58 L200.33,311.23 L200.70,311.97 L200.87,312.76 L200.83,313.51 L200.61,314.17 L200.23,314.69 L199.75,315.01 L199.20,315.12 L198.65,315.01 L198.17,314.69 L197.79,314.17 L197.57,313.51 L197.53,312.76 L197.70,311.97 L198.07,311.23 L198.63,310.58 L199.33,310.08 L200.14,309.77 L201.01,309.68 L201.87,309.81 L202.67,310.15 L203.35,310.69 L203.87,311.36 L204.21,312.12 L204.34,312.90 L204.27,313.64 L204.01,314.28 L203.61,314.76 L203.11,315.05 L202.56,315.12 L202.02,314.97 L201.55,314.60 L201.20,314.06 L201.01,313.38 L201.01,312.61 L201.22,311.83 L201.62,311.10 L202.21,310.47 L202.94,310.01 L203.76,309.73 L204.63,309.68 L205.48,309.86 L206.26,310.24 L206.92,310.80 L207.41,311.49 L207.71,312.26 L207.80,313.04 L207.69,313.76 L207.41,314.38 L206.99,314.83 L206.47,315.08 L205.92,315.11 L205.39,314.92 L204.94,314.52 L204.61,313.94 L204.46,313.24 L204.50,312.47 L204.74,311.69 L205.18,310.98 L205.79,310.37 L206.54,309.94 L207.38,309.71 L208.25,309.70 L209.09,309.91 L209.85,310.33 L210.48,310.92 L210.94,311.63 L211.20,312.40" stroke-width="1.15" stroke-linejoin="round"/>
<polyline points="211.0,313.0 227.1,313.0 227.1,323.6" stroke-width="1.40"/>
<circle cx="227.1" cy="323.6" r="1.35" fill="#0c0c0c" stroke="none"/>
<path d="M186.50,255.70 L186.78,254.86 L187.28,254.08 L187.97,253.43 L188.81,252.96 L189.74,252.71 L190.71,252.70 L191.65,252.92 L192.50,253.37 L193.21,254.00 L193.73,254.77 L194.04,255.60 L194.12,256.45 L193.99,257.24 L193.66,257.91 L193.18,258.40 L192.60,258.67 L191.98,258.71 L191.37,258.51 L190.85,258.09 L190.47,257.48 L190.27,256.72 L190.28,255.89 L190.51,255.04 L190.96,254.24 L191.61,253.56 L192.42,253.05 L193.34,252.75 L194.31,252.68 L195.26,252.85 L196.13,253.25 L196.88,253.85 L197.44,254.59 L197.80,255.42 L197.93,256.27 L197.85,257.07 L197.56,257.77 L197.11,258.30 L196.55,258.63 L195.93,258.72 L195.31,258.58 L194.77,258.20 L194.35,257.63 L194.11,256.90 L194.07,256.08 L194.25,255.23 L194.66,254.41 L195.26,253.70 L196.04,253.15 L196.94,252.80 L197.90,252.67 L198.86,252.80 L199.76,253.15 L200.54,253.70 L201.14,254.41 L201.55,255.23 L201.73,256.08 L201.69,256.90 L201.45,257.63 L201.03,258.20 L200.49,258.58 L199.87,258.72 L199.25,258.63 L198.69,258.30 L198.24,257.77 L197.95,257.07 L197.87,256.27 L198.00,255.42 L198.36,254.59 L198.92,253.85 L199.67,253.25 L200.54,252.85 L201.49,252.68 L202.46,252.75 L203.38,253.05 L204.19,253.56 L204.84,254.24 L205.29,255.04 L205.52,255.89 L205.53,256.72 L205.33,257.48 L204.95,258.09 L204.43,258.51 L203.82,258.71 L203.20,258.67 L202.62,258.40 L202.14,257.91 L201.81,257.24 L201.68,256.45 L201.76,255.60 L202.07,254.77 L202.59,254.00 L203.30,253.37 L204.15,252.92 L205.09,252.70 L206.06,252.71 L206.99,252.96 L207.83,253.43 L208.52,254.08 L209.02,254.86 L209.30,255.70" stroke-width="1.15" stroke-linejoin="round"/>
<polyline points="208.8,253.0 211.2,254.6 211.2,276.0" stroke-width="1.40"/>
<rect x="203.9" y="276.2" width="15.4" height="3.3" fill="#0c0c0c" stroke="none"/>
<polyline points="211.2,279.6 211.2,301.0 209.6,302.6" stroke-width="1.40"/>
<path d="M189.00,299.40 L189.25,298.56 L189.70,297.78 L190.31,297.13 L191.06,296.66 L191.89,296.41 L192.75,296.40 L193.59,296.62 L194.34,297.07 L194.97,297.70 L195.44,298.47 L195.71,299.30 L195.79,300.15 L195.67,300.94 L195.38,301.61 L194.95,302.10 L194.43,302.37 L193.88,302.41 L193.34,302.21 L192.87,301.79 L192.53,301.18 L192.35,300.42 L192.36,299.59 L192.57,298.74 L192.98,297.94 L193.55,297.26 L194.27,296.75 L195.09,296.45 L195.95,296.38 L196.80,296.55 L197.58,296.95 L198.24,297.55 L198.74,298.29 L199.06,299.12 L199.18,299.97 L199.10,300.77 L198.85,301.47 L198.45,302.00 L197.94,302.33 L197.39,302.42 L196.85,302.28 L196.36,301.90 L195.99,301.33 L195.77,300.60 L195.74,299.78 L195.90,298.93 L196.26,298.11 L196.80,297.40 L197.50,296.85 L198.30,296.50 L199.15,296.38 L200.00,296.50 L200.80,296.85 L201.50,297.40 L202.04,298.11 L202.40,298.93 L202.56,299.78 L202.53,300.60 L202.31,301.33 L201.94,301.90 L201.45,302.28 L200.91,302.42 L200.36,302.33 L199.85,302.00 L199.45,301.47 L199.20,300.77 L199.12,299.97 L199.24,299.12 L199.56,298.29 L200.06,297.55 L200.72,296.95 L201.50,296.55 L202.35,296.38 L203.21,296.45 L204.03,296.75 L204.75,297.26 L205.32,297.94 L205.73,298.74 L205.94,299.59 L205.95,300.42 L205.77,301.18 L205.43,301.79 L204.96,302.21 L204.42,302.41 L203.87,302.37 L203.35,302.10 L202.92,301.61 L202.63,300.94 L202.51,300.15 L202.59,299.30 L202.86,298.47 L203.33,297.70 L203.96,297.07 L204.71,296.62 L205.55,296.40 L206.41,296.41 L207.24,296.66 L207.99,297.13 L208.60,297.78 L209.05,298.56 L209.30,299.40" stroke-width="1.15" stroke-linejoin="round"/>
<polyline points="187.2,256.0 187.2,300.0" stroke-width="1.40"/>
<polyline points="206.6,283.8 216.5,270.4" stroke-width="1.26"/>
<polygon points="216.5,270.4 215.9,273.4 213.8,271.9" fill="#0c0c0c" stroke="none"/>
<text x="145.4" y="282.0" font-size="7.840000000000001" class="l" >L<tspan font-size="6.6" dy="1.7">6</tspan></text>
<text x="171.6" y="280.6" font-size="7.840000000000001" class="l" >L<tspan font-size="6.6" dy="1.7">6</tspan><tspan font-size="6.3" dy="-4.2">'</tspan></text>
<text x="222.6" y="280.6" font-size="7.840000000000001" class="l" >C<tspan font-size="6.6" dy="1.7">6</tspan></text>
<rect x="252.7" y="258.9" width="19.3" height="37.7" rx="9.7" ry="9.7" stroke-width="1.40"/>
<polyline points="255.6,267.6 269.0,267.6" stroke-width="2.45"/>
<polyline points="252.7,277.6 271.9,277.6" stroke-width="1.54" stroke-dasharray="2.8 1.3"/>
<path d="M257.8,300.0 L257.8,288.3 A4.5,4.5 0 0 1 266.8,288.3 L266.8,300.0" stroke-width="1.40" fill="none" />
<polyline points="262.3,267.6 262.3,245.4 334.0,245.6" stroke-width="1.40"/>
<circle cx="308.5" cy="245.4" r="1.35" fill="#0c0c0c" stroke="none"/>
<polyline points="308.5,245.4 308.5,277.2" stroke-width="1.40"/>
<rect x="299.7" y="277.1" width="16.4" height="3.3" fill="#0c0c0c" stroke="none"/>
<polyline points="308.5,280.2 308.5,309.6" stroke-width="1.40"/>
<circle cx="308.5" cy="309.6" r="1.35" fill="#0c0c0c" stroke="none"/>
<polyline points="303.4,285.4 313.6,272.4" stroke-width="1.26"/>
<polygon points="313.6,272.4 312.9,275.4 310.8,273.8" fill="#0c0c0c" stroke="none"/>
<polyline points="272.0,277.7 285.6,277.7" stroke-width="1.40"/>
<circle cx="279.3" cy="277.8" r="1.35" fill="#0c0c0c" stroke="none"/>
<polyline points="285.9,272.0 285.9,284.6" stroke-width="1.82"/>
<polyline points="288.5,272.0 288.5,284.6" stroke-width="1.82"/>
<polyline points="288.8,277.7 294.3,277.7 294.3,309.6" stroke-width="1.40"/>
<circle cx="294.3" cy="309.6" r="1.35" fill="#0c0c0c" stroke="none"/>
<polyline points="279.3,278.4 280.7,279.0 277.9,280.3 280.7,281.6 277.9,282.9 280.7,284.2 277.9,285.5 280.7,286.8 277.9,288.1 280.7,289.4 277.9,290.7 280.7,292.0 277.9,293.3 280.7,294.6 277.9,295.9 280.7,297.2 277.9,298.5 280.7,299.8 277.9,301.1 280.7,302.4 277.9,303.7 280.7,305.0 279.3,305.6" stroke-width="1.19"/>
<polyline points="279.3,305.4 279.3,309.5 336.6,309.4" stroke-width="1.40"/>
<polyline points="327.2,254.4 319.5,254.4 319.3,318.1" stroke-width="1.40"/>
<circle cx="319.0" cy="302.2" r="1.35" fill="#0c0c0c" stroke="none"/>
<circle cx="319.2" cy="318.1" r="1.35" fill="#0c0c0c" stroke="none"/>
<polyline points="319.0,302.2 327.2,302.2" stroke-width="1.40"/>
<rect x="327.1" y="246.6" width="53.2" height="14.5" rx="7.3" ry="7.3" stroke-width="1.40" fill="#fff"/>
<path d="M337.70,245.50 Q334.80,253.85 334.30,262.40" stroke-width="1.40" fill="none" />
<polyline points="334.3,262.4 335.4,263.0 336.8,262.3" stroke-width="1.12"/>
<path d="M342.62,245.50 Q339.73,253.85 339.23,262.40" stroke-width="1.40" fill="none" />
<polyline points="339.2,262.4 340.3,263.0 341.7,262.3" stroke-width="1.12"/>
<path d="M347.55,245.50 Q344.65,253.85 344.15,262.40" stroke-width="1.40" fill="none" />
<polyline points="344.2,262.4 345.2,263.0 346.7,262.3" stroke-width="1.12"/>
<path d="M352.47,245.50 Q349.57,253.85 349.07,262.40" stroke-width="1.40" fill="none" />
<polyline points="349.1,262.4 350.2,263.0 351.6,262.3" stroke-width="1.12"/>
<path d="M357.40,245.50 Q354.50,253.85 354.00,262.40" stroke-width="1.40" fill="none" />
<polyline points="354.0,262.4 355.1,263.0 356.5,262.3" stroke-width="1.12"/>
<path d="M362.32,245.50 Q359.43,253.85 358.93,262.40" stroke-width="1.40" fill="none" />
<polyline points="358.9,262.4 360.0,263.0 361.4,262.3" stroke-width="1.12"/>
<path d="M367.25,245.50 Q364.35,253.85 363.85,262.40" stroke-width="1.40" fill="none" />
<polyline points="363.8,262.4 364.9,263.0 366.3,262.3" stroke-width="1.12"/>
<path d="M372.17,245.50 Q369.27,253.85 368.77,262.40" stroke-width="1.40" fill="none" />
<polyline points="368.8,262.4 369.9,263.0 371.3,262.3" stroke-width="1.12"/>
<path d="M377.10,245.50 Q374.20,253.85 373.70,262.40" stroke-width="1.40" fill="none" />
<polyline points="380.3,254.4 388.5,254.4 388.5,260.0" stroke-width="1.40"/>
<polyline points="388.5,259.8 390.2,260.3 386.8,261.4 390.2,262.4 386.8,263.4 390.2,264.5 386.8,265.5 390.2,266.5 386.8,267.6 390.2,268.6 386.8,269.6 390.2,270.7 388.5,271.2" stroke-width="1.26"/>
<polyline points="388.5,271.0 388.5,272.4" stroke-width="1.40"/>
<polyline points="391.0,266.2 393.6,266.2 393.6,288.3 391.0,288.3" stroke-width="1.40"/>
<polygon points="390.3,266.2 392.7,265.0 392.7,267.4" fill="#0c0c0c" stroke="none"/>
<polygon points="390.3,288.3 392.7,287.1 392.7,289.5" fill="#0c0c0c" stroke="none"/>
<circle cx="393.7" cy="277.8" r="1.35" fill="#0c0c0c" stroke="none"/>
<polyline points="355.0,246.0 355.0,241.5 421.6,241.3" stroke-width="1.40"/>
<rect x="327.1" y="295.3" width="52.6" height="13.9" rx="6.9" ry="6.9" stroke-width="1.40" fill="#fff"/>
<path d="M337.70,294.20 Q334.80,302.25 334.30,310.50" stroke-width="1.40" fill="none" />
<polyline points="334.3,310.5 335.4,311.1 336.8,310.4" stroke-width="1.12"/>
<path d="M342.64,294.20 Q339.74,302.25 339.24,310.50" stroke-width="1.40" fill="none" />
<polyline points="339.2,310.5 340.3,311.1 341.7,310.4" stroke-width="1.12"/>
<path d="M347.59,294.20 Q344.69,302.25 344.19,310.50" stroke-width="1.40" fill="none" />
<polyline points="344.2,310.5 345.3,311.1 346.7,310.4" stroke-width="1.12"/>
<path d="M352.53,294.20 Q349.63,302.25 349.13,310.50" stroke-width="1.40" fill="none" />
<polyline points="349.1,310.5 350.2,311.1 351.6,310.4" stroke-width="1.12"/>
<path d="M357.47,294.20 Q354.57,302.25 354.07,310.50" stroke-width="1.40" fill="none" />
<polyline points="354.1,310.5 355.2,311.1 356.6,310.4" stroke-width="1.12"/>
<path d="M362.41,294.20 Q359.51,302.25 359.01,310.50" stroke-width="1.40" fill="none" />
<polyline points="359.0,310.5 360.1,311.1 361.5,310.4" stroke-width="1.12"/>
<path d="M367.36,294.20 Q364.46,302.25 363.96,310.50" stroke-width="1.40" fill="none" />
<polyline points="364.0,310.5 365.1,311.1 366.5,310.4" stroke-width="1.12"/>
<path d="M372.30,294.20 Q369.40,302.25 368.90,310.50" stroke-width="1.40" fill="none" />
<polyline points="379.7,302.2 388.5,302.2 388.5,295.8" stroke-width="1.40"/>
<polyline points="388.5,283.9 390.2,284.4 386.8,285.5 390.2,286.6 386.8,287.7 390.2,288.8 386.8,289.9 390.2,291.0 386.8,292.1 390.2,293.2 386.8,294.3 390.2,295.4 388.5,295.9" stroke-width="1.26"/>
<polyline points="355.0,310.0 355.0,314.6 421.6,315.5" stroke-width="1.40"/>
<polyline points="371.4,310.0 371.4,318.2 257.6,318.2" stroke-width="1.40"/>
<polyline points="257.6,299.0 257.2,353.9" stroke-width="1.40"/>
<circle cx="257.6" cy="318.2" r="1.4850000000000003" fill="#0c0c0c" stroke="none"/>
<circle cx="257.2" cy="353.9" r="1.4850000000000003" fill="#0c0c0c" stroke="none"/>
<polyline points="266.6,299.0 266.6,301.9" stroke-width="1.40"/>
<polyline points="266.6,301.7 268.3,302.2 264.9,303.3 268.3,304.3 264.9,305.3 268.3,306.4 264.9,307.4 268.3,308.4 264.9,309.5 268.3,310.5 264.9,311.5 268.3,312.6 266.6,313.1" stroke-width="1.26"/>
<polyline points="269.2,307.4 271.6,307.4 271.4,359.6" stroke-width="1.40"/>
<polygon points="268.6,307.4 271.0,306.2 271.0,308.6" fill="#0c0c0c" stroke="none"/>
<circle cx="271.4" cy="359.6" r="1.4850000000000003" fill="#0c0c0c" stroke="none"/>
<text x="298.2" y="274.4" font-size="7.840000000000001" class="l" >C<tspan font-size="6.6" dy="1.7">7</tspan></text>
<text x="350.4" y="268.8" font-size="6.6" class="n" >2</text>
<text x="352.0" y="292.2" font-size="6.6" class="n" >1</text>
<rect x="421.4" y="236.1" width="3.1" height="11.0" fill="#0c0c0c" stroke="none"/>
<polyline points="424.4,241.3 435.3,241.3" stroke-width="1.40"/>
<circle cx="434.4" cy="241.3" r="1.35" fill="#0c0c0c" stroke="none"/>
<polyline points="412.0,252.0 410.5,250.0 410.5,241.4" stroke-width="1.40"/>
<path d="M411.70,253.70 L411.94,252.86 L412.35,252.09 L412.93,251.46 L413.62,251.01 L414.39,250.78 L415.19,250.79 L415.95,251.04 L416.64,251.51 L417.20,252.16 L417.60,252.94 L417.82,253.78 L417.85,254.61 L417.71,255.37 L417.41,255.99 L417.00,256.43 L416.52,256.63 L416.01,256.60 L415.54,256.33 L415.16,255.84 L414.90,255.17 L414.80,254.39 L414.89,253.55 L415.16,252.72 L415.61,251.97 L416.20,251.36 L416.92,250.95 L417.69,250.76 L418.49,250.81 L419.24,251.11 L419.91,251.61 L420.44,252.29 L420.81,253.09 L421.00,253.93 L421.00,254.76 L420.83,255.50 L420.51,256.09 L420.08,256.48 L419.58,256.65 L419.08,256.57 L418.62,256.25 L418.26,255.73 L418.03,255.04 L417.96,254.24 L418.08,253.39 L418.39,252.57 L418.86,251.84 L419.49,251.27 L420.21,250.89 L421.00,250.75 L421.79,250.85 L422.53,251.18 L423.17,251.73 L423.68,252.43 L424.02,253.24 L424.17,254.09 L424.14,254.90 L423.94,255.62 L423.59,256.17 L423.15,256.53 L422.65,256.65 L422.15,256.53 L421.71,256.17 L421.36,255.62 L421.16,254.90 L421.13,254.09 L421.28,253.24 L421.62,252.43 L422.13,251.73 L422.77,251.18 L423.51,250.85 L424.30,250.75 L425.09,250.89 L425.81,251.27 L426.44,251.84 L426.91,252.57 L427.22,253.39 L427.34,254.24 L427.27,255.04 L427.04,255.73 L426.68,256.25 L426.22,256.57 L425.72,256.65 L425.22,256.48 L424.79,256.09 L424.47,255.50 L424.30,254.76 L424.30,253.93 L424.49,253.09 L424.86,252.29 L425.39,251.61 L426.06,251.11 L426.81,250.81 L427.61,250.76 L428.38,250.95 L429.10,251.36 L429.69,251.97 L430.14,252.72 L430.41,253.55 L430.50,254.39 L430.40,255.17 L430.14,255.84 L429.76,256.33 L429.29,256.60 L428.78,256.63 L428.30,256.43 L427.89,255.99 L427.59,255.37 L427.45,254.61 L427.48,253.78 L427.70,252.94 L428.10,252.16 L428.66,251.51 L429.35,251.04 L430.11,250.79 L430.91,250.78 L431.68,251.01 L432.37,251.46 L432.95,252.09 L433.36,252.86 L433.60,253.70" stroke-width="1.50" stroke-linejoin="round"/>
<rect x="412.3" y="259.0" width="20.7" height="3.6" fill="#0c0c0c" stroke="none"/>
<path d="M411.30,267.30 L411.56,266.52 L412.01,265.80 L412.63,265.21 L413.38,264.79 L414.21,264.57 L415.07,264.58 L415.90,264.82 L416.64,265.26 L417.25,265.86 L417.68,266.59 L417.92,267.37 L417.96,268.15 L417.80,268.86 L417.48,269.44 L417.04,269.84 L416.51,270.03 L415.97,270.00 L415.46,269.75 L415.04,269.29 L414.76,268.68 L414.66,267.94 L414.75,267.16 L415.04,266.38 L415.53,265.68 L416.18,265.12 L416.95,264.73 L417.79,264.56 L418.65,264.61 L419.46,264.88 L420.18,265.36 L420.76,265.99 L421.16,266.73 L421.36,267.52 L421.36,268.29 L421.18,268.97 L420.83,269.52 L420.36,269.89 L419.83,270.05 L419.29,269.97 L418.79,269.68 L418.40,269.19 L418.15,268.55 L418.08,267.80 L418.21,267.01 L418.54,266.25 L419.05,265.57 L419.73,265.03 L420.51,264.68 L421.36,264.55 L422.22,264.64 L423.02,264.96 L423.72,265.46 L424.26,266.12 L424.63,266.87 L424.79,267.66 L424.76,268.42 L424.54,269.09 L424.17,269.61 L423.69,269.94 L423.15,270.05 L422.61,269.94 L422.13,269.61 L421.76,269.09 L421.54,268.42 L421.51,267.66 L421.67,266.87 L422.04,266.12 L422.58,265.46 L423.28,264.96 L424.08,264.64 L424.94,264.55 L425.79,264.68 L426.57,265.03 L427.25,265.57 L427.76,266.25 L428.09,267.01 L428.22,267.80 L428.15,268.55 L427.90,269.19 L427.51,269.68 L427.01,269.97 L426.47,270.05 L425.94,269.89 L425.47,269.52 L425.12,268.97 L424.94,268.29 L424.94,267.52 L425.14,266.73 L425.54,265.99 L426.12,265.36 L426.84,264.88 L427.65,264.61 L428.51,264.56 L429.35,264.73 L430.12,265.12 L430.77,265.68 L431.26,266.38 L431.55,267.16 L431.64,267.94 L431.54,268.68 L431.26,269.29 L430.84,269.75 L430.33,270.00 L429.79,270.03 L429.26,269.84 L428.82,269.44 L428.50,268.86 L428.34,268.15 L428.38,267.37 L428.62,266.59 L429.05,265.86 L429.66,265.26 L430.40,264.82 L431.23,264.58 L432.09,264.57 L432.92,264.79 L433.67,265.21 L434.29,265.80 L434.74,266.52 L435.00,267.30" stroke-width="1.50" stroke-linejoin="round"/>
<polyline points="434.6,267.1 462.4,266.9 465.3,269.0" stroke-width="1.40"/>
<polyline points="411.8,268.8 410.5,270.4 410.5,286.0 411.8,287.8" stroke-width="1.40"/>
<path d="M411.70,289.00 L411.94,288.16 L412.35,287.39 L412.93,286.76 L413.62,286.31 L414.39,286.08 L415.19,286.09 L415.95,286.34 L416.64,286.81 L417.20,287.46 L417.60,288.24 L417.82,289.08 L417.85,289.91 L417.71,290.67 L417.41,291.29 L417.00,291.73 L416.52,291.93 L416.01,291.90 L415.54,291.63 L415.16,291.14 L414.90,290.48 L414.80,289.69 L414.89,288.85 L415.16,288.02 L415.61,287.27 L416.20,286.66 L416.92,286.25 L417.69,286.06 L418.49,286.11 L419.24,286.41 L419.91,286.91 L420.44,287.59 L420.81,288.39 L421.00,289.23 L421.00,290.06 L420.83,290.80 L420.51,291.39 L420.08,291.78 L419.58,291.95 L419.08,291.87 L418.62,291.55 L418.26,291.03 L418.03,290.34 L417.96,289.54 L418.08,288.69 L418.39,287.87 L418.86,287.14 L419.49,286.57 L420.21,286.19 L421.00,286.05 L421.79,286.15 L422.53,286.48 L423.17,287.03 L423.68,287.73 L424.02,288.54 L424.17,289.39 L424.14,290.20 L423.94,290.92 L423.59,291.47 L423.15,291.83 L422.65,291.95 L422.15,291.83 L421.71,291.47 L421.36,290.92 L421.16,290.20 L421.13,289.39 L421.28,288.54 L421.62,287.73 L422.13,287.03 L422.77,286.48 L423.51,286.15 L424.30,286.05 L425.09,286.19 L425.81,286.57 L426.44,287.14 L426.91,287.87 L427.22,288.69 L427.34,289.54 L427.27,290.34 L427.04,291.03 L426.68,291.55 L426.22,291.87 L425.72,291.95 L425.22,291.78 L424.79,291.39 L424.47,290.80 L424.30,290.06 L424.30,289.23 L424.49,288.39 L424.86,287.59 L425.39,286.91 L426.06,286.41 L426.81,286.11 L427.61,286.06 L428.38,286.25 L429.10,286.66 L429.69,287.27 L430.14,288.02 L430.41,288.85 L430.50,289.69 L430.40,290.47 L430.14,291.14 L429.76,291.63 L429.29,291.90 L428.78,291.93 L428.30,291.73 L427.89,291.29 L427.59,290.67 L427.45,289.91 L427.48,289.08 L427.70,288.24 L428.10,287.46 L428.66,286.81 L429.35,286.34 L430.11,286.09 L430.91,286.08 L431.68,286.31 L432.37,286.76 L432.95,287.39 L433.36,288.16 L433.60,289.00" stroke-width="1.50" stroke-linejoin="round"/>
<polyline points="433.4,288.8 462.8,289.0 465.3,287.6" stroke-width="1.40"/>
<rect x="412.3" y="293.9" width="20.3" height="3.7" fill="#0c0c0c" stroke="none"/>
<path d="M411.30,303.00 L411.55,302.19 L411.98,301.45 L412.58,300.83 L413.31,300.40 L414.11,300.17 L414.94,300.19 L415.74,300.43 L416.46,300.88 L417.05,301.51 L417.47,302.26 L417.70,303.07 L417.73,303.88 L417.58,304.61 L417.28,305.21 L416.84,305.63 L416.34,305.83 L415.81,305.80 L415.32,305.54 L414.91,305.07 L414.64,304.43 L414.54,303.67 L414.63,302.85 L414.92,302.05 L415.39,301.32 L416.01,300.74 L416.75,300.34 L417.57,300.16 L418.40,300.21 L419.19,300.50 L419.88,300.98 L420.44,301.64 L420.83,302.41 L421.02,303.22 L421.02,304.02 L420.84,304.73 L420.51,305.31 L420.06,305.69 L419.54,305.85 L419.02,305.77 L418.54,305.47 L418.16,304.96 L417.92,304.29 L417.85,303.52 L417.97,302.70 L418.29,301.91 L418.79,301.21 L419.44,300.65 L420.20,300.29 L421.02,300.15 L421.85,300.25 L422.62,300.57 L423.30,301.09 L423.83,301.77 L424.18,302.55 L424.34,303.37 L424.31,304.16 L424.10,304.85 L423.74,305.39 L423.27,305.73 L422.75,305.85 L422.23,305.73 L421.76,305.39 L421.40,304.85 L421.19,304.16 L421.16,303.37 L421.32,302.55 L421.67,301.77 L422.20,301.09 L422.88,300.57 L423.65,300.25 L424.48,300.15 L425.30,300.29 L426.06,300.65 L426.71,301.21 L427.21,301.91 L427.53,302.70 L427.65,303.52 L427.58,304.29 L427.34,304.96 L426.96,305.47 L426.48,305.77 L425.96,305.85 L425.44,305.69 L424.99,305.31 L424.66,304.73 L424.48,304.02 L424.48,303.22 L424.67,302.41 L425.06,301.64 L425.62,300.98 L426.31,300.50 L427.10,300.21 L427.93,300.16 L428.75,300.34 L429.49,300.74 L430.11,301.32 L430.58,302.05 L430.87,302.85 L430.96,303.67 L430.86,304.43 L430.59,305.07 L430.18,305.54 L429.69,305.80 L429.16,305.83 L428.66,305.63 L428.22,305.21 L427.92,304.61 L427.77,303.88 L427.80,303.07 L428.03,302.26 L428.45,301.51 L429.04,300.88 L429.76,300.43 L430.56,300.19 L431.39,300.17 L432.19,300.40 L432.92,300.83 L433.52,301.45 L433.95,302.19 L434.20,303.00" stroke-width="1.50" stroke-linejoin="round"/>
<polyline points="411.6,304.6 410.2,306.4 410.2,315.4" stroke-width="1.40"/>
<circle cx="409.9" cy="315.5" r="1.35" fill="#0c0c0c" stroke="none"/>
<rect x="421.4" y="309.6" width="3.1" height="11.4" fill="#0c0c0c" stroke="none"/>
<polyline points="424.4,315.5 434.5,315.6" stroke-width="1.40"/>
<text x="437.0" y="262.4" font-size="7.168000000000001" class="l" >T<tspan font-size="6.0" dy="1.7">7</tspan></text>
<text x="437.0" y="299.0" font-size="7.168000000000001" class="l" >T<tspan font-size="6.0" dy="1.7">7</tspan><tspan font-size="5.7" dy="-4.2">'</tspan></text>
<path d="M464.90,268.90 L465.70,269.11 L466.44,269.49 L467.05,270.00 L467.48,270.63 L467.70,271.32 L467.69,272.04 L467.45,272.72 L467.00,273.34 L466.38,273.84 L465.63,274.20 L464.83,274.40 L464.03,274.43 L463.30,274.31 L462.70,274.04 L462.29,273.67 L462.09,273.23 L462.12,272.78 L462.38,272.36 L462.85,272.01 L463.49,271.78 L464.24,271.69 L465.05,271.77 L465.84,272.01 L466.56,272.41 L467.14,272.95 L467.54,273.59 L467.72,274.29 L467.66,275.01 L467.38,275.68 L466.90,276.28 L466.25,276.76 L465.49,277.09 L464.68,277.26 L463.89,277.26 L463.18,277.11 L462.61,276.82 L462.24,276.43 L462.08,275.99 L462.15,275.54 L462.45,275.13 L462.96,274.80 L463.62,274.59 L464.39,274.53 L465.20,274.64 L465.98,274.92 L466.68,275.34 L467.23,275.90 L467.59,276.56 L467.72,277.26 L467.63,277.97 L467.31,278.64 L466.79,279.22 L466.12,279.68 L465.34,279.98 L464.53,280.12 L463.75,280.09 L463.07,279.91 L462.53,279.60 L462.19,279.20 L462.07,278.75 L462.19,278.30 L462.53,277.90 L463.07,277.59 L463.75,277.41 L464.53,277.38 L465.34,277.52 L466.12,277.82 L466.79,278.28 L467.31,278.86 L467.63,279.53 L467.72,280.24 L467.59,280.94 L467.23,281.60 L466.68,282.16 L465.98,282.58 L465.20,282.86 L464.39,282.97 L463.62,282.91 L462.96,282.70 L462.45,282.37 L462.15,281.96 L462.08,281.51 L462.24,281.07 L462.61,280.68 L463.18,280.39 L463.89,280.24 L464.68,280.24 L465.49,280.41 L466.25,280.74 L466.90,281.22 L467.38,281.82 L467.66,282.49 L467.72,283.21 L467.54,283.91 L467.14,284.55 L466.56,285.09 L465.84,285.49 L465.05,285.73 L464.24,285.81 L463.49,285.72 L462.85,285.49 L462.38,285.14 L462.12,284.72 L462.09,284.27 L462.29,283.83 L462.70,283.46 L463.30,283.19 L464.03,283.07 L464.83,283.10 L465.63,283.30 L466.38,283.66 L467.00,284.16 L467.45,284.78 L467.69,285.46 L467.70,286.18 L467.48,286.87 L467.05,287.50 L466.44,288.01 L465.70,288.39 L464.90,288.60" stroke-width="1.15" stroke-linejoin="round"/>
<rect x="468.9" y="268.8" width="5.7" height="19.8" fill="#0c0c0c" stroke="none"/>
<path d="M478.80,268.90 L477.97,269.11 L477.21,269.49 L476.58,270.00 L476.13,270.63 L475.90,271.32 L475.91,272.04 L476.16,272.72 L476.63,273.34 L477.27,273.84 L478.04,274.20 L478.88,274.40 L479.70,274.43 L480.46,274.31 L481.07,274.04 L481.50,273.67 L481.71,273.23 L481.68,272.78 L481.41,272.36 L480.92,272.01 L480.26,271.78 L479.48,271.69 L478.65,271.77 L477.82,272.01 L477.08,272.41 L476.48,272.95 L476.07,273.59 L475.88,274.29 L475.94,275.01 L476.23,275.68 L476.73,276.28 L477.40,276.76 L478.19,277.09 L479.03,277.26 L479.85,277.26 L480.58,277.11 L481.17,276.82 L481.56,276.43 L481.72,275.99 L481.64,275.54 L481.33,275.13 L480.81,274.80 L480.13,274.59 L479.33,274.53 L478.49,274.64 L477.68,274.92 L476.96,275.34 L476.39,275.90 L476.02,276.56 L475.88,277.26 L475.97,277.97 L476.31,278.64 L476.84,279.22 L477.54,279.68 L478.34,279.98 L479.18,280.12 L479.99,280.09 L480.70,279.91 L481.25,279.60 L481.60,279.20 L481.73,278.75 L481.60,278.30 L481.25,277.90 L480.70,277.59 L479.99,277.41 L479.18,277.38 L478.34,277.52 L477.54,277.82 L476.84,278.28 L476.31,278.86 L475.97,279.53 L475.88,280.24 L476.02,280.94 L476.39,281.60 L476.96,282.16 L477.68,282.58 L478.49,282.86 L479.33,282.97 L480.13,282.91 L480.81,282.70 L481.33,282.37 L481.64,281.96 L481.72,281.51 L481.56,281.07 L481.17,280.68 L480.58,280.39 L479.85,280.24 L479.03,280.24 L478.19,280.41 L477.40,280.74 L476.73,281.22 L476.23,281.82 L475.94,282.49 L475.88,283.21 L476.07,283.91 L476.48,284.55 L477.08,285.09 L477.82,285.49 L478.65,285.73 L479.48,285.81 L480.26,285.72 L480.92,285.49 L481.41,285.14 L481.68,284.72 L481.71,284.27 L481.50,283.83 L481.07,283.46 L480.46,283.19 L479.70,283.07 L478.88,283.10 L478.04,283.30 L477.27,283.66 L476.63,284.16 L476.16,284.78 L475.91,285.46 L475.90,286.18 L476.13,286.87 L476.58,287.50 L477.21,288.01 L477.97,288.39 L478.80,288.60" stroke-width="1.15" stroke-linejoin="round"/>
<polyline points="478.6,269.0 480.2,267.0 489.6,267.0" stroke-width="1.40"/>
<polyline points="478.6,287.0 478.2,289.0 478.2,311.1 563.2,311.3 563.2,298.6" stroke-width="1.40"/>
<rect x="489.6" y="248.6" width="19.6" height="37.9" rx="9.8" ry="9.8" stroke-width="1.40"/>
<polyline points="492.6,258.0 506.2,258.0" stroke-width="2.45"/>
<polyline points="489.6,267.0 509.2,267.0" stroke-width="1.54" stroke-dasharray="2.8 1.3"/>
<path d="M494.8,290.0 L494.8,277.5 A4.6,4.6 0 0 1 504.0,277.5 L504.0,290.0" stroke-width="1.40" fill="none" />
<polyline points="499.4,258.0 499.4,239.7 521.0,239.8 521.0,267.6 520.4,270.2" stroke-width="1.40"/>
<polyline points="494.6,289.0 494.0,360.5" stroke-width="1.40"/>
<circle cx="494.1" cy="324.4" r="1.4850000000000003" fill="#0c0c0c" stroke="none"/>
<circle cx="494.0" cy="360.5" r="1.4850000000000003" fill="#0c0c0c" stroke="none"/>
<polyline points="494.1,324.4 548.6,324.6 548.8,289.0" stroke-width="1.40"/>
<polyline points="503.8,289.0 503.6,293.6" stroke-width="1.40"/>
<polyline points="503.5,293.5 505.2,294.1 501.8,295.2 505.2,296.4 501.8,297.5 505.2,298.7 501.8,299.9 505.2,301.0 501.8,302.2 505.2,303.3 501.8,304.5 505.2,305.6 503.5,306.2" stroke-width="1.26"/>
<polyline points="505.4,299.2 507.7,299.2 507.5,354.9" stroke-width="1.40"/>
<polygon points="504.8,299.2 507.2,298.0 507.2,300.4" fill="#0c0c0c" stroke="none"/>
<circle cx="507.7" cy="311.1" r="1.4850000000000003" fill="#0c0c0c" stroke="none"/>
<circle cx="507.5" cy="354.9" r="1.4850000000000003" fill="#0c0c0c" stroke="none"/>
<path d="M520.20,269.80 L521.00,270.02 L521.74,270.39 L522.35,270.91 L522.78,271.54 L523.00,272.23 L522.99,272.95 L522.75,273.64 L522.30,274.26 L521.68,274.77 L520.93,275.13 L520.13,275.33 L519.33,275.36 L518.60,275.23 L518.00,274.97 L517.59,274.59 L517.39,274.15 L517.42,273.70 L517.68,273.27 L518.15,272.92 L518.79,272.69 L519.54,272.61 L520.35,272.68 L521.14,272.93 L521.86,273.33 L522.44,273.87 L522.84,274.52 L523.02,275.22 L522.96,275.94 L522.68,276.62 L522.20,277.22 L521.55,277.70 L520.79,278.04 L519.98,278.21 L519.19,278.21 L518.48,278.05 L517.91,277.76 L517.54,277.37 L517.38,276.93 L517.45,276.47 L517.75,276.06 L518.26,275.73 L518.92,275.52 L519.69,275.46 L520.50,275.57 L521.28,275.85 L521.98,276.28 L522.53,276.84 L522.89,277.50 L523.02,278.21 L522.93,278.92 L522.61,279.59 L522.09,280.17 L521.42,280.63 L520.64,280.94 L519.83,281.07 L519.05,281.05 L518.37,280.86 L517.83,280.55 L517.49,280.15 L517.38,279.70 L517.49,279.25 L517.83,278.85 L518.37,278.54 L519.05,278.35 L519.83,278.33 L520.64,278.46 L521.42,278.77 L522.09,279.23 L522.61,279.81 L522.93,280.48 L523.02,281.19 L522.89,281.90 L522.53,282.56 L521.98,283.12 L521.28,283.55 L520.50,283.83 L519.69,283.94 L518.92,283.88 L518.26,283.67 L517.75,283.34 L517.45,282.93 L517.38,282.47 L517.54,282.03 L517.91,281.64 L518.48,281.35 L519.19,281.19 L519.98,281.19 L520.79,281.36 L521.55,281.70 L522.20,282.18 L522.68,282.78 L522.96,283.46 L523.02,284.18 L522.84,284.88 L522.44,285.53 L521.86,286.07 L521.14,286.47 L520.35,286.72 L519.54,286.79 L518.79,286.71 L518.15,286.48 L517.68,286.13 L517.42,285.70 L517.39,285.25 L517.59,284.81 L518.00,284.43 L518.60,284.17 L519.33,284.04 L520.13,284.07 L520.93,284.27 L521.68,284.63 L522.30,285.14 L522.75,285.76 L522.99,286.45 L523.00,287.17 L522.78,287.86 L522.35,288.49 L521.74,289.01 L521.00,289.38 L520.20,289.60" stroke-width="1.15" stroke-linejoin="round"/>
<rect x="524.2" y="269.8" width="5.7" height="19.8" fill="#0c0c0c" stroke="none"/>
<path d="M533.90,269.80 L533.07,270.02 L532.31,270.39 L531.68,270.91 L531.23,271.54 L531.00,272.23 L531.01,272.95 L531.26,273.64 L531.73,274.26 L532.37,274.77 L533.14,275.13 L533.98,275.33 L534.80,275.36 L535.56,275.23 L536.17,274.97 L536.60,274.59 L536.81,274.15 L536.78,273.70 L536.51,273.27 L536.02,272.92 L535.36,272.69 L534.58,272.61 L533.75,272.68 L532.92,272.93 L532.18,273.33 L531.58,273.87 L531.17,274.52 L530.98,275.22 L531.04,275.94 L531.33,276.62 L531.83,277.22 L532.50,277.70 L533.29,278.04 L534.13,278.21 L534.95,278.21 L535.68,278.05 L536.27,277.76 L536.66,277.37 L536.82,276.93 L536.74,276.47 L536.43,276.06 L535.91,275.73 L535.23,275.52 L534.43,275.46 L533.59,275.57 L532.78,275.85 L532.06,276.28 L531.49,276.84 L531.12,277.50 L530.98,278.21 L531.07,278.92 L531.41,279.59 L531.94,280.17 L532.64,280.63 L533.44,280.94 L534.28,281.07 L535.09,281.05 L535.80,280.86 L536.35,280.55 L536.70,280.15 L536.82,279.70 L536.70,279.25 L536.35,278.85 L535.80,278.54 L535.09,278.35 L534.28,278.33 L533.44,278.46 L532.64,278.77 L531.94,279.23 L531.41,279.81 L531.07,280.48 L530.98,281.19 L531.12,281.90 L531.49,282.56 L532.06,283.12 L532.78,283.55 L533.59,283.83 L534.43,283.94 L535.23,283.88 L535.91,283.67 L536.43,283.34 L536.74,282.93 L536.82,282.47 L536.66,282.03 L536.27,281.64 L535.68,281.35 L534.95,281.19 L534.13,281.19 L533.29,281.36 L532.50,281.70 L531.83,282.18 L531.33,282.78 L531.04,283.46 L530.98,284.18 L531.17,284.88 L531.58,285.53 L532.18,286.07 L532.92,286.47 L533.75,286.72 L534.58,286.79 L535.36,286.71 L536.02,286.48 L536.51,286.13 L536.78,285.70 L536.81,285.25 L536.60,284.81 L536.17,284.43 L535.56,284.17 L534.80,284.04 L533.98,284.07 L533.14,284.27 L532.37,284.63 L531.73,285.14 L531.26,285.76 L531.01,286.45 L531.00,287.17 L531.23,287.86 L531.68,288.49 L532.31,289.01 L533.07,289.38 L533.90,289.60" stroke-width="1.15" stroke-linejoin="round"/>
<polyline points="520.6,288.8 521.0,291.0 520.7,367.6" stroke-width="1.40"/>
<circle cx="520.6" cy="317.9" r="1.4850000000000003" fill="#0c0c0c" stroke="none"/>
<polyline points="520.6,317.9 574.5,317.7 574.5,291.0 574.3,288.8" stroke-width="1.40"/>
<polyline points="533.7,270.2 535.4,267.6 544.4,267.6" stroke-width="1.40"/>
<polyline points="533.7,289.2 533.7,311.2" stroke-width="1.40"/>
<circle cx="533.7" cy="311.2" r="1.4850000000000003" fill="#0c0c0c" stroke="none"/>
<rect x="544.2" y="249.2" width="19.6" height="37.3" rx="9.8" ry="9.8" stroke-width="1.40"/>
<polyline points="547.0,258.3 561.0,258.3" stroke-width="2.45"/>
<polyline points="544.2,267.6 563.8,267.6" stroke-width="1.54" stroke-dasharray="2.8 1.3"/>
<path d="M549.3,290.0 L549.3,277.9 A4.7,4.7 0 0 1 558.7,277.9 L558.7,290.0" stroke-width="1.40" fill="none" />
<polyline points="554.0,258.3 554.0,240.3 575.2,240.4 575.2,267.8 574.5,269.8" stroke-width="1.40"/>
<polyline points="558.4,289.0 558.2,293.6" stroke-width="1.40"/>
<polyline points="558.0,293.5 559.7,294.1 556.3,295.2 559.7,296.4 556.3,297.5 559.7,298.7 556.3,299.9 559.7,301.0 556.3,302.2 559.7,303.3 556.3,304.5 559.7,305.6 558.0,306.2" stroke-width="1.26"/>
<polyline points="560.4,298.6 563.2,298.6" stroke-width="1.40"/>
<polygon points="559.8,298.6 562.2,297.4 562.2,299.8" fill="#0c0c0c" stroke="none"/>
<path d="M574.40,269.60 L575.20,269.82 L575.94,270.19 L576.55,270.71 L576.98,271.34 L577.20,272.03 L577.19,272.75 L576.95,273.44 L576.50,274.06 L575.88,274.57 L575.13,274.93 L574.33,275.13 L573.53,275.16 L572.80,275.03 L572.20,274.77 L571.79,274.39 L571.59,273.95 L571.62,273.50 L571.88,273.07 L572.35,272.72 L572.99,272.49 L573.74,272.41 L574.55,272.48 L575.34,272.73 L576.06,273.13 L576.64,273.67 L577.04,274.32 L577.22,275.02 L577.16,275.74 L576.88,276.42 L576.40,277.02 L575.75,277.50 L574.99,277.84 L574.18,278.01 L573.39,278.01 L572.68,277.85 L572.11,277.56 L571.74,277.17 L571.58,276.73 L571.65,276.27 L571.95,275.86 L572.46,275.53 L573.12,275.32 L573.89,275.26 L574.70,275.37 L575.48,275.65 L576.18,276.08 L576.73,276.64 L577.09,277.30 L577.22,278.01 L577.13,278.72 L576.81,279.39 L576.29,279.97 L575.62,280.43 L574.84,280.74 L574.03,280.87 L573.25,280.85 L572.57,280.66 L572.03,280.35 L571.69,279.95 L571.57,279.50 L571.69,279.05 L572.03,278.65 L572.57,278.34 L573.25,278.15 L574.03,278.13 L574.84,278.26 L575.62,278.57 L576.29,279.03 L576.81,279.61 L577.13,280.28 L577.22,280.99 L577.09,281.70 L576.73,282.36 L576.18,282.92 L575.48,283.35 L574.70,283.63 L573.89,283.74 L573.12,283.68 L572.46,283.47 L571.95,283.14 L571.65,282.73 L571.58,282.27 L571.74,281.83 L572.11,281.44 L572.68,281.15 L573.39,280.99 L574.18,280.99 L574.99,281.16 L575.75,281.50 L576.40,281.98 L576.88,282.58 L577.16,283.26 L577.22,283.98 L577.04,284.68 L576.64,285.33 L576.06,285.87 L575.34,286.27 L574.55,286.52 L573.74,286.59 L572.99,286.51 L572.35,286.28 L571.88,285.93 L571.62,285.50 L571.59,285.05 L571.79,284.61 L572.20,284.23 L572.80,283.97 L573.53,283.84 L574.33,283.87 L575.13,284.07 L575.88,284.43 L576.50,284.94 L576.95,285.56 L577.19,286.25 L577.20,286.97 L576.98,287.66 L576.55,288.29 L575.94,288.81 L575.20,289.18 L574.40,289.40" stroke-width="1.15" stroke-linejoin="round"/>
<rect x="578.5" y="269.6" width="5.6" height="19.8" fill="#0c0c0c" stroke="none"/>
<path d="M588.20,269.60 L587.37,269.82 L586.61,270.19 L585.98,270.71 L585.53,271.34 L585.30,272.03 L585.31,272.75 L585.56,273.44 L586.03,274.06 L586.67,274.57 L587.44,274.93 L588.28,275.13 L589.10,275.16 L589.86,275.03 L590.47,274.77 L590.90,274.39 L591.11,273.95 L591.08,273.50 L590.81,273.07 L590.32,272.72 L589.66,272.49 L588.88,272.41 L588.05,272.48 L587.22,272.73 L586.48,273.13 L585.88,273.67 L585.47,274.32 L585.28,275.02 L585.34,275.74 L585.63,276.42 L586.13,277.02 L586.80,277.50 L587.59,277.84 L588.43,278.01 L589.25,278.01 L589.98,277.85 L590.57,277.56 L590.96,277.17 L591.12,276.73 L591.04,276.27 L590.73,275.86 L590.21,275.53 L589.53,275.32 L588.73,275.26 L587.89,275.37 L587.08,275.65 L586.36,276.08 L585.79,276.64 L585.42,277.30 L585.28,278.01 L585.37,278.72 L585.71,279.39 L586.24,279.97 L586.94,280.43 L587.74,280.74 L588.58,280.87 L589.39,280.85 L590.10,280.66 L590.65,280.35 L591.00,279.95 L591.12,279.50 L591.00,279.05 L590.65,278.65 L590.10,278.34 L589.39,278.15 L588.58,278.13 L587.74,278.26 L586.94,278.57 L586.24,279.03 L585.71,279.61 L585.37,280.28 L585.28,280.99 L585.42,281.70 L585.79,282.36 L586.36,282.92 L587.08,283.35 L587.89,283.63 L588.73,283.74 L589.53,283.68 L590.21,283.47 L590.73,283.14 L591.04,282.73 L591.12,282.27 L590.96,281.83 L590.57,281.44 L589.98,281.15 L589.25,280.99 L588.43,280.99 L587.59,281.16 L586.80,281.50 L586.13,281.98 L585.63,282.58 L585.34,283.26 L585.28,283.98 L585.47,284.68 L585.88,285.33 L586.48,285.87 L587.22,286.27 L588.05,286.52 L588.88,286.59 L589.66,286.51 L590.32,286.28 L590.81,285.93 L591.08,285.50 L591.11,285.05 L590.90,284.61 L590.47,284.23 L589.86,283.97 L589.10,283.84 L588.28,283.87 L587.44,284.07 L586.67,284.43 L586.03,284.94 L585.56,285.56 L585.31,286.25 L585.30,286.97 L585.53,287.66 L585.98,288.29 L586.61,288.81 L587.37,289.18 L588.20,289.40" stroke-width="1.15" stroke-linejoin="round"/>
<polyline points="588.1,269.6 590.0,268.5 616.6,268.7" stroke-width="1.40"/>
<polyline points="588.1,288.8 590.4,290.0 616.6,290.2" stroke-width="1.40"/>
<text x="469.6" y="296.8" font-size="7.168000000000001" class="l" >T<tspan font-size="6.0" dy="1.7">8</tspan></text>
<text x="524.8" y="297.6" font-size="7.168000000000001" class="l" >T<tspan font-size="6.0" dy="1.7">8</tspan><tspan font-size="5.7" dy="-4.2">'</tspan></text>
<text x="578.6" y="298.8" font-size="7.168000000000001" class="l" >T<tspan font-size="6.0" dy="1.7">8</tspan><tspan font-size="5.7" dy="-4.2">"</tspan></text>
</g>
<g>
<path d="M171.10,86.00 A29.20,35.50 0 1 0 229.50,86.00 A29.20,35.50 0 1 0 171.10,86.00Z M176.20,86.00 A23.80,31.00 0 1 0 223.80,86.00 A23.80,31.00 0 1 0 176.20,86.00Z" fill="#ec1c24" fill-rule="evenodd" stroke="none"/>
<path d="M243.10,96.90 A26.70,40.80 0 1 0 296.50,96.90 A26.70,40.80 0 1 0 243.10,96.90Z M248.30,96.85 A21.20,36.75 0 1 0 290.70,96.85 A21.20,36.75 0 1 0 248.30,96.85Z" fill="#ec1c24" fill-rule="evenodd" stroke="none"/>
<path d="M371.50,103.85 A38.00,48.55 0 1 0 447.50,103.85 A38.00,48.55 0 1 0 371.50,103.85Z M376.90,103.85 A32.60,44.25 0 1 0 442.10,103.85 A32.60,44.25 0 1 0 376.90,103.85Z" fill="#ec1c24" fill-rule="evenodd" stroke="none"/>
<path d="M179.90,280.35 A28.50,39.35 0 1 0 236.90,280.35 A28.50,39.35 0 1 0 179.90,280.35Z M186.00,280.40 A23.00,35.20 0 1 0 232.00,280.40 A23.00,35.20 0 1 0 186.00,280.40Z" fill="#ec1c24" fill-rule="evenodd" stroke="none"/>
<path d="M396.70,281.30 A28.00,58.80 0 1 0 452.70,281.30 A28.00,58.80 0 1 0 396.70,281.30Z M402.90,281.55 A21.80,54.35 0 1 0 446.50,281.55 A21.80,54.35 0 1 0 402.90,281.55Z" fill="#ec1c24" fill-rule="evenodd" stroke="none"/>
</g>
<g filter="url(#gs)">
<text x="673.3" y="110.6" font-size="14.0" class="b" textLength="58.8" lengthAdjust="spacingAndGlyphs" >Bildzitat:</text>
<text x="673.3" y="130.1" font-size="14.0" class="b" textLength="112.0" lengthAdjust="spacingAndGlyphs" >https://archive.o</text>
<text x="673.3" y="149.6" font-size="14.0" class="b" textLength="110.8" lengthAdjust="spacingAndGlyphs" >rg/details/teknis</text>
<text x="673.3" y="169.1" font-size="14.0" class="b" textLength="19.3" lengthAdjust="spacingAndGlyphs" >ka-</text>
<text x="673.3" y="188.6" font-size="14.0" class="b" textLength="97.6" lengthAdjust="spacingAndGlyphs" >meddelanden-</text>
<text x="673.3" y="208.1" font-size="14.0" class="b" textLength="92.8" lengthAdjust="spacingAndGlyphs" >fran-kungliga-</text>
<text x="673.3" y="227.6" font-size="14.0" class="b" textLength="110.3" lengthAdjust="spacingAndGlyphs" >telegrafstyrelsen</text>
<text x="673.3" y="247.1" font-size="14.0" class="b" textLength="5.3" lengthAdjust="spacingAndGlyphs" >-</text>
<text x="673.3" y="266.6" font-size="14.0" class="b" textLength="107.9" lengthAdjust="spacingAndGlyphs" >vol-4/page/n39/</text>
<text x="673.3" y="286.1" font-size="14.0" class="b" textLength="76.8" lengthAdjust="spacingAndGlyphs" >mode/2up?</text>
<text x="673.3" y="305.6" font-size="14.0" class="b" textLength="88.0" lengthAdjust="spacingAndGlyphs" >view=theater</text>
</g>
</svg>
</body>
</html>
